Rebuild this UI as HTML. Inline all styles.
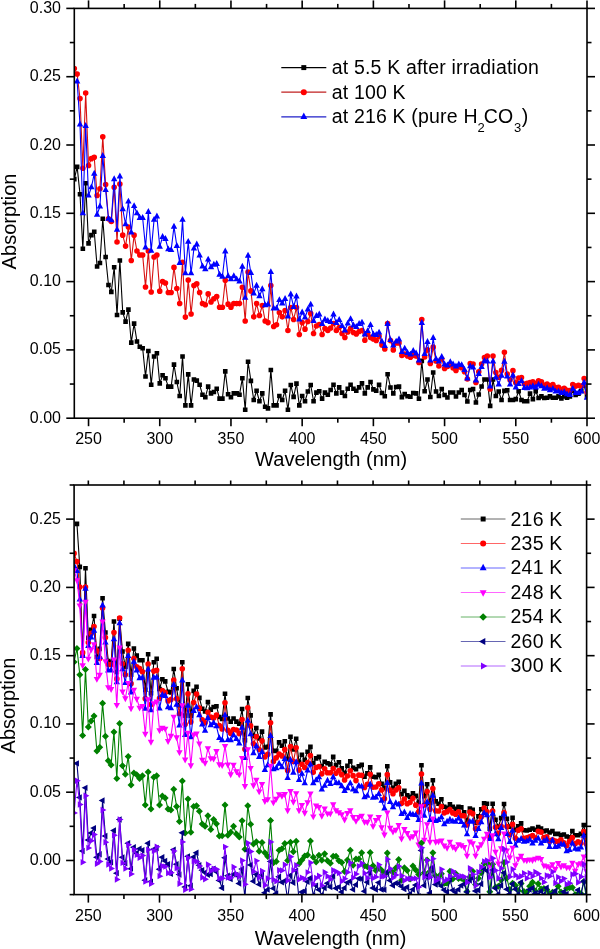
<!DOCTYPE html><html><head><meta charset="utf-8"><style>html,body{margin:0;padding:0;background:#fff;}svg{display:block;will-change:transform;}text{font-family:"Liberation Sans", sans-serif;fill:#000;}</style></head><body><svg width="600" height="949" viewBox="0 0 600 949"><rect width="600" height="949" fill="#fff"/><defs><clipPath id="ct"><rect x="74.3" y="8.4" width="512.7" height="409.8"/></clipPath><clipPath id="cb"><rect x="74.1" y="485" width="512.5" height="409.6"/></clipPath></defs><g clip-path="url(#ct)"><path d="M74.3 179.15 L77.15 166.86 L80 194.18 L82.84 248.82 L85.69 183.25 L88.54 243.35 L91.39 235.16 L94.24 231.74 L97.09 266.57 L99.94 263.02 L102.78 218.76 L105.63 257.01 L108.48 285.01 L111.33 291.84 L114.18 267.26 L117.03 315.07 L119.87 260.56 L122.72 312.33 L125.57 321.62 L128.42 309.6 L131.27 342.66 L134.12 323.67 L136.96 341.43 L139.81 346.76 L142.66 348.26 L145.51 376.54 L148.36 350.99 L151.2 384.73 L154.05 356.46 L156.9 353.31 L159.75 383.37 L162.6 375.31 L165.45 378.31 L168.3 386.65 L171.14 386.65 L173.99 364.65 L176.84 382 L179.69 395.93 L182.54 356.46 L185.39 405.36 L188.23 374.35 L191.08 405.36 L193.93 379.54 L196.78 380.63 L199.63 384.73 L202.48 394.7 L205.32 397.3 L208.17 386.65 L211.02 393.34 L213.87 391.97 L216.72 388.69 L219.56 398.67 L222.41 398.67 L225.26 371.35 L228.11 394.29 L230.96 397.3 L233.81 393.34 L236.66 393.34 L239.5 394.7 L242.35 378.31 L245.2 409.73 L248.05 361.78 L250.9 380.91 L253.75 400.03 L256.59 390.74 L259.44 401.26 L262.29 393.34 L265.14 406.73 L267.99 408.36 L270.84 369.98 L273.68 405.36 L276.53 405.36 L279.38 395.93 L282.23 400.03 L285.08 390.74 L287.93 409.73 L290.77 385.01 L293.62 396.89 L296.47 383.64 L299.32 405.36 L302.17 395.93 L305.02 401.26 L307.86 391.56 L310.71 385.01 L313.56 401.26 L316.41 392.66 L319.26 391.29 L322.11 398.67 L324.95 392.66 L327.8 394.7 L330.65 390.06 L333.5 384.73 L336.35 393.34 L339.2 387.33 L342.04 392.66 L344.89 395.93 L347.74 388.69 L350.59 384.73 L353.44 388.69 L356.29 390.74 L359.13 387.33 L361.98 383.37 L364.83 393.34 L367.68 387.33 L370.53 382 L373.38 389.38 L376.22 390.74 L379.07 384.73 L381.92 392.93 L384.77 396.21 L387.62 374.21 L390.47 387.46 L393.31 393.34 L396.16 387.06 L399.01 386.65 L401.86 397.16 L404.71 394.16 L407.56 396.21 L410.4 396.75 L413.25 392.93 L416.1 393.34 L418.95 398.8 L421.8 360.83 L424.65 391.29 L427.49 379.54 L430.34 397.03 L433.19 372.44 L436.04 391.56 L438.89 395.93 L441.74 388.97 L444.58 394.98 L447.43 397.44 L450.28 392.52 L453.13 392.52 L455.98 396.48 L458.82 392.52 L461.67 390.06 L464.52 394.98 L467.37 401.53 L470.22 390.06 L473.07 388.97 L475.92 402.49 L478.76 394.57 L481.61 386.51 L484.46 379.54 L487.31 379.54 L490.16 405.91 L493.01 379.54 L495.85 395.93 L498.7 391.56 L501.55 400.03 L504.4 390.88 L507.25 390.2 L510.1 400.03 L512.94 400.03 L515.79 399.08 L518.64 391.29 L521.49 400.03 L524.34 401.26 L527.18 401.26 L530.03 393.61 L532.88 399.08 L535.73 391.29 L538.58 397.98 L541.43 396.34 L544.28 397.98 L547.12 397.71 L549.97 396.34 L552.82 397.71 L555.67 397.71 L558.52 396.34 L561.37 398.39 L564.21 396.34 L567.06 397.71 L569.91 396.34 L572.76 390.88 L575.61 394.98 L578.46 393.61 L581.3 390.88 L584.15 385.42 L587 396.34" fill="none" stroke="#000" stroke-width="1.1" stroke-linejoin="round"/><path d="M72 176.85h4.6v4.6h-4.6zM74.85 164.56h4.6v4.6h-4.6zM77.7 191.88h4.6v4.6h-4.6zM80.55 246.52h4.6v4.6h-4.6zM83.39 180.95h4.6v4.6h-4.6zM86.24 241.05h4.6v4.6h-4.6zM89.09 232.86h4.6v4.6h-4.6zM91.94 229.44h4.6v4.6h-4.6zM94.79 264.27h4.6v4.6h-4.6zM97.64 260.72h4.6v4.6h-4.6zM100.48 216.46h4.6v4.6h-4.6zM103.33 254.71h4.6v4.6h-4.6zM106.18 282.71h4.6v4.6h-4.6zM109.03 289.54h4.6v4.6h-4.6zM111.88 264.96h4.6v4.6h-4.6zM114.73 312.77h4.6v4.6h-4.6zM117.57 258.26h4.6v4.6h-4.6zM120.42 310.03h4.6v4.6h-4.6zM123.27 319.32h4.6v4.6h-4.6zM126.12 307.3h4.6v4.6h-4.6zM128.97 340.36h4.6v4.6h-4.6zM131.81 321.37h4.6v4.6h-4.6zM134.66 339.13h4.6v4.6h-4.6zM137.51 344.46h4.6v4.6h-4.6zM140.36 345.96h4.6v4.6h-4.6zM143.21 374.24h4.6v4.6h-4.6zM146.06 348.69h4.6v4.6h-4.6zM148.9 382.43h4.6v4.6h-4.6zM151.75 354.16h4.6v4.6h-4.6zM154.6 351.01h4.6v4.6h-4.6zM157.45 381.07h4.6v4.6h-4.6zM160.3 373.01h4.6v4.6h-4.6zM163.15 376.01h4.6v4.6h-4.6zM166 384.35h4.6v4.6h-4.6zM168.84 384.35h4.6v4.6h-4.6zM171.69 362.35h4.6v4.6h-4.6zM174.54 379.7h4.6v4.6h-4.6zM177.39 393.63h4.6v4.6h-4.6zM180.24 354.16h4.6v4.6h-4.6zM183.09 403.06h4.6v4.6h-4.6zM185.93 372.05h4.6v4.6h-4.6zM188.78 403.06h4.6v4.6h-4.6zM191.63 377.24h4.6v4.6h-4.6zM194.48 378.33h4.6v4.6h-4.6zM197.33 382.43h4.6v4.6h-4.6zM200.18 392.4h4.6v4.6h-4.6zM203.02 395h4.6v4.6h-4.6zM205.87 384.35h4.6v4.6h-4.6zM208.72 391.04h4.6v4.6h-4.6zM211.57 389.67h4.6v4.6h-4.6zM214.42 386.39h4.6v4.6h-4.6zM217.26 396.37h4.6v4.6h-4.6zM220.11 396.37h4.6v4.6h-4.6zM222.96 369.05h4.6v4.6h-4.6zM225.81 391.99h4.6v4.6h-4.6zM228.66 395h4.6v4.6h-4.6zM231.51 391.04h4.6v4.6h-4.6zM234.36 391.04h4.6v4.6h-4.6zM237.2 392.4h4.6v4.6h-4.6zM240.05 376.01h4.6v4.6h-4.6zM242.9 407.43h4.6v4.6h-4.6zM245.75 359.48h4.6v4.6h-4.6zM248.6 378.61h4.6v4.6h-4.6zM251.44 397.73h4.6v4.6h-4.6zM254.29 388.44h4.6v4.6h-4.6zM257.14 398.96h4.6v4.6h-4.6zM259.99 391.04h4.6v4.6h-4.6zM262.84 404.43h4.6v4.6h-4.6zM265.69 406.06h4.6v4.6h-4.6zM268.54 367.68h4.6v4.6h-4.6zM271.38 403.06h4.6v4.6h-4.6zM274.23 403.06h4.6v4.6h-4.6zM277.08 393.63h4.6v4.6h-4.6zM279.93 397.73h4.6v4.6h-4.6zM282.78 388.44h4.6v4.6h-4.6zM285.62 407.43h4.6v4.6h-4.6zM288.47 382.71h4.6v4.6h-4.6zM291.32 394.59h4.6v4.6h-4.6zM294.17 381.34h4.6v4.6h-4.6zM297.02 403.06h4.6v4.6h-4.6zM299.87 393.63h4.6v4.6h-4.6zM302.72 398.96h4.6v4.6h-4.6zM305.56 389.26h4.6v4.6h-4.6zM308.41 382.71h4.6v4.6h-4.6zM311.26 398.96h4.6v4.6h-4.6zM314.11 390.36h4.6v4.6h-4.6zM316.96 388.99h4.6v4.6h-4.6zM319.81 396.37h4.6v4.6h-4.6zM322.65 390.36h4.6v4.6h-4.6zM325.5 392.4h4.6v4.6h-4.6zM328.35 387.76h4.6v4.6h-4.6zM331.2 382.43h4.6v4.6h-4.6zM334.05 391.04h4.6v4.6h-4.6zM336.9 385.03h4.6v4.6h-4.6zM339.74 390.36h4.6v4.6h-4.6zM342.59 393.63h4.6v4.6h-4.6zM345.44 386.39h4.6v4.6h-4.6zM348.29 382.43h4.6v4.6h-4.6zM351.14 386.39h4.6v4.6h-4.6zM353.99 388.44h4.6v4.6h-4.6zM356.83 385.03h4.6v4.6h-4.6zM359.68 381.07h4.6v4.6h-4.6zM362.53 391.04h4.6v4.6h-4.6zM365.38 385.03h4.6v4.6h-4.6zM368.23 379.7h4.6v4.6h-4.6zM371.08 387.08h4.6v4.6h-4.6zM373.92 388.44h4.6v4.6h-4.6zM376.77 382.43h4.6v4.6h-4.6zM379.62 390.63h4.6v4.6h-4.6zM382.47 393.91h4.6v4.6h-4.6zM385.32 371.91h4.6v4.6h-4.6zM388.17 385.16h4.6v4.6h-4.6zM391.01 391.04h4.6v4.6h-4.6zM393.86 384.76h4.6v4.6h-4.6zM396.71 384.35h4.6v4.6h-4.6zM399.56 394.86h4.6v4.6h-4.6zM402.41 391.86h4.6v4.6h-4.6zM405.26 393.91h4.6v4.6h-4.6zM408.1 394.45h4.6v4.6h-4.6zM410.95 390.63h4.6v4.6h-4.6zM413.8 391.04h4.6v4.6h-4.6zM416.65 396.5h4.6v4.6h-4.6zM419.5 358.53h4.6v4.6h-4.6zM422.35 388.99h4.6v4.6h-4.6zM425.19 377.24h4.6v4.6h-4.6zM428.04 394.73h4.6v4.6h-4.6zM430.89 370.14h4.6v4.6h-4.6zM433.74 389.26h4.6v4.6h-4.6zM436.59 393.63h4.6v4.6h-4.6zM439.44 386.67h4.6v4.6h-4.6zM442.28 392.68h4.6v4.6h-4.6zM445.13 395.14h4.6v4.6h-4.6zM447.98 390.22h4.6v4.6h-4.6zM450.83 390.22h4.6v4.6h-4.6zM453.68 394.18h4.6v4.6h-4.6zM456.52 390.22h4.6v4.6h-4.6zM459.37 387.76h4.6v4.6h-4.6zM462.22 392.68h4.6v4.6h-4.6zM465.07 399.23h4.6v4.6h-4.6zM467.92 387.76h4.6v4.6h-4.6zM470.77 386.67h4.6v4.6h-4.6zM473.62 400.19h4.6v4.6h-4.6zM476.46 392.27h4.6v4.6h-4.6zM479.31 384.21h4.6v4.6h-4.6zM482.16 377.24h4.6v4.6h-4.6zM485.01 377.24h4.6v4.6h-4.6zM487.86 403.61h4.6v4.6h-4.6zM490.71 377.24h4.6v4.6h-4.6zM493.55 393.63h4.6v4.6h-4.6zM496.4 389.26h4.6v4.6h-4.6zM499.25 397.73h4.6v4.6h-4.6zM502.1 388.58h4.6v4.6h-4.6zM504.95 387.9h4.6v4.6h-4.6zM507.8 397.73h4.6v4.6h-4.6zM510.64 397.73h4.6v4.6h-4.6zM513.49 396.78h4.6v4.6h-4.6zM516.34 388.99h4.6v4.6h-4.6zM519.19 397.73h4.6v4.6h-4.6zM522.04 398.96h4.6v4.6h-4.6zM524.88 398.96h4.6v4.6h-4.6zM527.73 391.31h4.6v4.6h-4.6zM530.58 396.78h4.6v4.6h-4.6zM533.43 388.99h4.6v4.6h-4.6zM536.28 395.68h4.6v4.6h-4.6zM539.13 394.04h4.6v4.6h-4.6zM541.98 395.68h4.6v4.6h-4.6zM544.82 395.41h4.6v4.6h-4.6zM547.67 394.04h4.6v4.6h-4.6zM550.52 395.41h4.6v4.6h-4.6zM553.37 395.41h4.6v4.6h-4.6zM556.22 394.04h4.6v4.6h-4.6zM559.07 396.09h4.6v4.6h-4.6zM561.91 394.04h4.6v4.6h-4.6zM564.76 395.41h4.6v4.6h-4.6zM567.61 394.04h4.6v4.6h-4.6zM570.46 388.58h4.6v4.6h-4.6zM573.31 392.68h4.6v4.6h-4.6zM576.16 391.31h4.6v4.6h-4.6zM579 388.58h4.6v4.6h-4.6zM581.85 383.12h4.6v4.6h-4.6zM584.7 394.04h4.6v4.6h-4.6z" fill="#000"/><path d="M74.3 68.5 L77.15 73.97 L80 98.56 L82.84 168.22 L85.69 93.09 L88.54 165.49 L91.39 158.66 L94.24 157.29 L97.09 195.54 L99.94 188.71 L102.78 136.8 L105.63 184.61 L108.48 218.76 L111.33 221.5 L114.18 187.35 L117.03 241.99 L119.87 184.07 L122.72 235.16 L125.57 246.08 L128.42 226.96 L131.27 260.56 L134.12 235.16 L136.96 251 L139.81 254.96 L142.66 254.96 L145.51 287.06 L148.36 251 L151.2 291.98 L154.05 257.01 L156.9 254.96 L159.75 291.16 L162.6 281.6 L165.45 282.97 L168.3 292.53 L171.14 292.53 L173.99 267.39 L176.84 288.43 L179.69 303.46 L182.54 262.34 L185.39 317.12 L188.23 280.1 L191.08 313.97 L193.93 285.56 L196.78 283.79 L199.63 292.53 L202.48 303.46 L205.32 304.82 L208.17 293.89 L211.02 301.95 L213.87 298.81 L216.72 296.49 L219.56 307.28 L222.41 307.28 L225.26 280.37 L228.11 304.14 L230.96 307.28 L233.81 303.59 L236.66 303.59 L239.5 303.59 L242.35 287.2 L245.2 320.94 L248.05 272.04 L250.9 290.89 L253.75 316.84 L256.59 303.59 L259.44 315.48 L262.29 305.5 L265.14 320.94 L267.99 322.58 L270.84 285.56 L273.68 326.54 L276.53 324.77 L279.38 312.47 L282.23 316.84 L285.08 310.56 L287.93 330.5 L290.77 307.55 L293.62 319.44 L296.47 307.55 L299.32 334.46 L302.17 322.58 L305.02 329.14 L307.86 321.49 L310.71 313.56 L313.56 333.51 L316.41 326 L319.26 324.49 L322.11 334.46 L324.95 328.45 L327.8 330.5 L330.65 328.04 L333.5 323.54 L336.35 330.5 L339.2 327.5 L342.04 333.51 L344.89 337.47 L347.74 332.01 L350.59 328.45 L353.44 332.55 L356.29 334.05 L359.13 331.46 L361.98 330.5 L364.83 340.2 L367.68 334.05 L370.53 337.61 L373.38 338.97 L376.22 340.47 L379.07 336.24 L381.92 344.98 L384.77 348.94 L387.62 323.54 L390.47 340.47 L393.31 349.9 L396.16 343.07 L399.01 343.07 L401.86 355.5 L404.71 354 L407.56 356.05 L410.4 357.14 L413.25 355.36 L416.1 356.05 L418.95 362.47 L421.8 319.44 L424.65 357 L427.49 349.9 L430.34 363.56 L433.19 347.17 L436.04 360.96 L438.89 366.02 L441.74 359.05 L444.58 368.48 L447.43 366.43 L450.28 364.52 L453.13 367.93 L455.98 370.53 L458.82 366.97 L461.67 367.66 L464.52 371.76 L467.37 379 L470.22 363.56 L473.07 363.97 L475.92 382.41 L478.76 371.76 L481.61 363.97 L484.46 357.55 L487.31 356.05 L490.16 388.97 L493.01 356.05 L495.85 372.44 L498.7 377.22 L501.55 370.39 L504.4 352.36 L507.25 373.94 L510.1 379.95 L512.94 370.66 L515.79 382.68 L518.64 378.04 L521.49 377.49 L524.34 384.05 L527.18 383.37 L530.03 382.68 L532.88 381.73 L535.73 384.05 L538.58 380.77 L541.43 381.86 L544.28 385.42 L547.12 384.05 L549.97 386.1 L552.82 384.6 L555.67 387.46 L558.52 387.33 L561.37 389.51 L564.21 388.42 L567.06 390.2 L569.91 390.47 L572.76 384.46 L575.61 386.1 L578.46 385.42 L581.3 386.1 L584.15 378.59 L587 392.25" fill="none" stroke="#d81010" stroke-width="1.1" stroke-linejoin="round"/><path d="M71.5 68.5a2.8 2.8 0 1 0 5.6 0a2.8 2.8 0 1 0 -5.6 0M74.35 73.97a2.8 2.8 0 1 0 5.6 0a2.8 2.8 0 1 0 -5.6 0M77.2 98.56a2.8 2.8 0 1 0 5.6 0a2.8 2.8 0 1 0 -5.6 0M80.05 168.22a2.8 2.8 0 1 0 5.6 0a2.8 2.8 0 1 0 -5.6 0M82.89 93.09a2.8 2.8 0 1 0 5.6 0a2.8 2.8 0 1 0 -5.6 0M85.74 165.49a2.8 2.8 0 1 0 5.6 0a2.8 2.8 0 1 0 -5.6 0M88.59 158.66a2.8 2.8 0 1 0 5.6 0a2.8 2.8 0 1 0 -5.6 0M91.44 157.29a2.8 2.8 0 1 0 5.6 0a2.8 2.8 0 1 0 -5.6 0M94.29 195.54a2.8 2.8 0 1 0 5.6 0a2.8 2.8 0 1 0 -5.6 0M97.14 188.71a2.8 2.8 0 1 0 5.6 0a2.8 2.8 0 1 0 -5.6 0M99.98 136.8a2.8 2.8 0 1 0 5.6 0a2.8 2.8 0 1 0 -5.6 0M102.83 184.61a2.8 2.8 0 1 0 5.6 0a2.8 2.8 0 1 0 -5.6 0M105.68 218.76a2.8 2.8 0 1 0 5.6 0a2.8 2.8 0 1 0 -5.6 0M108.53 221.5a2.8 2.8 0 1 0 5.6 0a2.8 2.8 0 1 0 -5.6 0M111.38 187.35a2.8 2.8 0 1 0 5.6 0a2.8 2.8 0 1 0 -5.6 0M114.23 241.99a2.8 2.8 0 1 0 5.6 0a2.8 2.8 0 1 0 -5.6 0M117.07 184.07a2.8 2.8 0 1 0 5.6 0a2.8 2.8 0 1 0 -5.6 0M119.92 235.16a2.8 2.8 0 1 0 5.6 0a2.8 2.8 0 1 0 -5.6 0M122.77 246.08a2.8 2.8 0 1 0 5.6 0a2.8 2.8 0 1 0 -5.6 0M125.62 226.96a2.8 2.8 0 1 0 5.6 0a2.8 2.8 0 1 0 -5.6 0M128.47 260.56a2.8 2.8 0 1 0 5.6 0a2.8 2.8 0 1 0 -5.6 0M131.31 235.16a2.8 2.8 0 1 0 5.6 0a2.8 2.8 0 1 0 -5.6 0M134.16 251a2.8 2.8 0 1 0 5.6 0a2.8 2.8 0 1 0 -5.6 0M137.01 254.96a2.8 2.8 0 1 0 5.6 0a2.8 2.8 0 1 0 -5.6 0M139.86 254.96a2.8 2.8 0 1 0 5.6 0a2.8 2.8 0 1 0 -5.6 0M142.71 287.06a2.8 2.8 0 1 0 5.6 0a2.8 2.8 0 1 0 -5.6 0M145.56 251a2.8 2.8 0 1 0 5.6 0a2.8 2.8 0 1 0 -5.6 0M148.4 291.98a2.8 2.8 0 1 0 5.6 0a2.8 2.8 0 1 0 -5.6 0M151.25 257.01a2.8 2.8 0 1 0 5.6 0a2.8 2.8 0 1 0 -5.6 0M154.1 254.96a2.8 2.8 0 1 0 5.6 0a2.8 2.8 0 1 0 -5.6 0M156.95 291.16a2.8 2.8 0 1 0 5.6 0a2.8 2.8 0 1 0 -5.6 0M159.8 281.6a2.8 2.8 0 1 0 5.6 0a2.8 2.8 0 1 0 -5.6 0M162.65 282.97a2.8 2.8 0 1 0 5.6 0a2.8 2.8 0 1 0 -5.6 0M165.5 292.53a2.8 2.8 0 1 0 5.6 0a2.8 2.8 0 1 0 -5.6 0M168.34 292.53a2.8 2.8 0 1 0 5.6 0a2.8 2.8 0 1 0 -5.6 0M171.19 267.39a2.8 2.8 0 1 0 5.6 0a2.8 2.8 0 1 0 -5.6 0M174.04 288.43a2.8 2.8 0 1 0 5.6 0a2.8 2.8 0 1 0 -5.6 0M176.89 303.46a2.8 2.8 0 1 0 5.6 0a2.8 2.8 0 1 0 -5.6 0M179.74 262.34a2.8 2.8 0 1 0 5.6 0a2.8 2.8 0 1 0 -5.6 0M182.59 317.12a2.8 2.8 0 1 0 5.6 0a2.8 2.8 0 1 0 -5.6 0M185.43 280.1a2.8 2.8 0 1 0 5.6 0a2.8 2.8 0 1 0 -5.6 0M188.28 313.97a2.8 2.8 0 1 0 5.6 0a2.8 2.8 0 1 0 -5.6 0M191.13 285.56a2.8 2.8 0 1 0 5.6 0a2.8 2.8 0 1 0 -5.6 0M193.98 283.79a2.8 2.8 0 1 0 5.6 0a2.8 2.8 0 1 0 -5.6 0M196.83 292.53a2.8 2.8 0 1 0 5.6 0a2.8 2.8 0 1 0 -5.6 0M199.68 303.46a2.8 2.8 0 1 0 5.6 0a2.8 2.8 0 1 0 -5.6 0M202.52 304.82a2.8 2.8 0 1 0 5.6 0a2.8 2.8 0 1 0 -5.6 0M205.37 293.89a2.8 2.8 0 1 0 5.6 0a2.8 2.8 0 1 0 -5.6 0M208.22 301.95a2.8 2.8 0 1 0 5.6 0a2.8 2.8 0 1 0 -5.6 0M211.07 298.81a2.8 2.8 0 1 0 5.6 0a2.8 2.8 0 1 0 -5.6 0M213.92 296.49a2.8 2.8 0 1 0 5.6 0a2.8 2.8 0 1 0 -5.6 0M216.76 307.28a2.8 2.8 0 1 0 5.6 0a2.8 2.8 0 1 0 -5.6 0M219.61 307.28a2.8 2.8 0 1 0 5.6 0a2.8 2.8 0 1 0 -5.6 0M222.46 280.37a2.8 2.8 0 1 0 5.6 0a2.8 2.8 0 1 0 -5.6 0M225.31 304.14a2.8 2.8 0 1 0 5.6 0a2.8 2.8 0 1 0 -5.6 0M228.16 307.28a2.8 2.8 0 1 0 5.6 0a2.8 2.8 0 1 0 -5.6 0M231.01 303.59a2.8 2.8 0 1 0 5.6 0a2.8 2.8 0 1 0 -5.6 0M233.86 303.59a2.8 2.8 0 1 0 5.6 0a2.8 2.8 0 1 0 -5.6 0M236.7 303.59a2.8 2.8 0 1 0 5.6 0a2.8 2.8 0 1 0 -5.6 0M239.55 287.2a2.8 2.8 0 1 0 5.6 0a2.8 2.8 0 1 0 -5.6 0M242.4 320.94a2.8 2.8 0 1 0 5.6 0a2.8 2.8 0 1 0 -5.6 0M245.25 272.04a2.8 2.8 0 1 0 5.6 0a2.8 2.8 0 1 0 -5.6 0M248.1 290.89a2.8 2.8 0 1 0 5.6 0a2.8 2.8 0 1 0 -5.6 0M250.94 316.84a2.8 2.8 0 1 0 5.6 0a2.8 2.8 0 1 0 -5.6 0M253.79 303.59a2.8 2.8 0 1 0 5.6 0a2.8 2.8 0 1 0 -5.6 0M256.64 315.48a2.8 2.8 0 1 0 5.6 0a2.8 2.8 0 1 0 -5.6 0M259.49 305.5a2.8 2.8 0 1 0 5.6 0a2.8 2.8 0 1 0 -5.6 0M262.34 320.94a2.8 2.8 0 1 0 5.6 0a2.8 2.8 0 1 0 -5.6 0M265.19 322.58a2.8 2.8 0 1 0 5.6 0a2.8 2.8 0 1 0 -5.6 0M268.04 285.56a2.8 2.8 0 1 0 5.6 0a2.8 2.8 0 1 0 -5.6 0M270.88 326.54a2.8 2.8 0 1 0 5.6 0a2.8 2.8 0 1 0 -5.6 0M273.73 324.77a2.8 2.8 0 1 0 5.6 0a2.8 2.8 0 1 0 -5.6 0M276.58 312.47a2.8 2.8 0 1 0 5.6 0a2.8 2.8 0 1 0 -5.6 0M279.43 316.84a2.8 2.8 0 1 0 5.6 0a2.8 2.8 0 1 0 -5.6 0M282.28 310.56a2.8 2.8 0 1 0 5.6 0a2.8 2.8 0 1 0 -5.6 0M285.12 330.5a2.8 2.8 0 1 0 5.6 0a2.8 2.8 0 1 0 -5.6 0M287.97 307.55a2.8 2.8 0 1 0 5.6 0a2.8 2.8 0 1 0 -5.6 0M290.82 319.44a2.8 2.8 0 1 0 5.6 0a2.8 2.8 0 1 0 -5.6 0M293.67 307.55a2.8 2.8 0 1 0 5.6 0a2.8 2.8 0 1 0 -5.6 0M296.52 334.46a2.8 2.8 0 1 0 5.6 0a2.8 2.8 0 1 0 -5.6 0M299.37 322.58a2.8 2.8 0 1 0 5.6 0a2.8 2.8 0 1 0 -5.6 0M302.22 329.14a2.8 2.8 0 1 0 5.6 0a2.8 2.8 0 1 0 -5.6 0M305.06 321.49a2.8 2.8 0 1 0 5.6 0a2.8 2.8 0 1 0 -5.6 0M307.91 313.56a2.8 2.8 0 1 0 5.6 0a2.8 2.8 0 1 0 -5.6 0M310.76 333.51a2.8 2.8 0 1 0 5.6 0a2.8 2.8 0 1 0 -5.6 0M313.61 326a2.8 2.8 0 1 0 5.6 0a2.8 2.8 0 1 0 -5.6 0M316.46 324.49a2.8 2.8 0 1 0 5.6 0a2.8 2.8 0 1 0 -5.6 0M319.31 334.46a2.8 2.8 0 1 0 5.6 0a2.8 2.8 0 1 0 -5.6 0M322.15 328.45a2.8 2.8 0 1 0 5.6 0a2.8 2.8 0 1 0 -5.6 0M325 330.5a2.8 2.8 0 1 0 5.6 0a2.8 2.8 0 1 0 -5.6 0M327.85 328.04a2.8 2.8 0 1 0 5.6 0a2.8 2.8 0 1 0 -5.6 0M330.7 323.54a2.8 2.8 0 1 0 5.6 0a2.8 2.8 0 1 0 -5.6 0M333.55 330.5a2.8 2.8 0 1 0 5.6 0a2.8 2.8 0 1 0 -5.6 0M336.4 327.5a2.8 2.8 0 1 0 5.6 0a2.8 2.8 0 1 0 -5.6 0M339.24 333.51a2.8 2.8 0 1 0 5.6 0a2.8 2.8 0 1 0 -5.6 0M342.09 337.47a2.8 2.8 0 1 0 5.6 0a2.8 2.8 0 1 0 -5.6 0M344.94 332.01a2.8 2.8 0 1 0 5.6 0a2.8 2.8 0 1 0 -5.6 0M347.79 328.45a2.8 2.8 0 1 0 5.6 0a2.8 2.8 0 1 0 -5.6 0M350.64 332.55a2.8 2.8 0 1 0 5.6 0a2.8 2.8 0 1 0 -5.6 0M353.49 334.05a2.8 2.8 0 1 0 5.6 0a2.8 2.8 0 1 0 -5.6 0M356.33 331.46a2.8 2.8 0 1 0 5.6 0a2.8 2.8 0 1 0 -5.6 0M359.18 330.5a2.8 2.8 0 1 0 5.6 0a2.8 2.8 0 1 0 -5.6 0M362.03 340.2a2.8 2.8 0 1 0 5.6 0a2.8 2.8 0 1 0 -5.6 0M364.88 334.05a2.8 2.8 0 1 0 5.6 0a2.8 2.8 0 1 0 -5.6 0M367.73 337.61a2.8 2.8 0 1 0 5.6 0a2.8 2.8 0 1 0 -5.6 0M370.58 338.97a2.8 2.8 0 1 0 5.6 0a2.8 2.8 0 1 0 -5.6 0M373.42 340.47a2.8 2.8 0 1 0 5.6 0a2.8 2.8 0 1 0 -5.6 0M376.27 336.24a2.8 2.8 0 1 0 5.6 0a2.8 2.8 0 1 0 -5.6 0M379.12 344.98a2.8 2.8 0 1 0 5.6 0a2.8 2.8 0 1 0 -5.6 0M381.97 348.94a2.8 2.8 0 1 0 5.6 0a2.8 2.8 0 1 0 -5.6 0M384.82 323.54a2.8 2.8 0 1 0 5.6 0a2.8 2.8 0 1 0 -5.6 0M387.67 340.47a2.8 2.8 0 1 0 5.6 0a2.8 2.8 0 1 0 -5.6 0M390.51 349.9a2.8 2.8 0 1 0 5.6 0a2.8 2.8 0 1 0 -5.6 0M393.36 343.07a2.8 2.8 0 1 0 5.6 0a2.8 2.8 0 1 0 -5.6 0M396.21 343.07a2.8 2.8 0 1 0 5.6 0a2.8 2.8 0 1 0 -5.6 0M399.06 355.5a2.8 2.8 0 1 0 5.6 0a2.8 2.8 0 1 0 -5.6 0M401.91 354a2.8 2.8 0 1 0 5.6 0a2.8 2.8 0 1 0 -5.6 0M404.76 356.05a2.8 2.8 0 1 0 5.6 0a2.8 2.8 0 1 0 -5.6 0M407.6 357.14a2.8 2.8 0 1 0 5.6 0a2.8 2.8 0 1 0 -5.6 0M410.45 355.36a2.8 2.8 0 1 0 5.6 0a2.8 2.8 0 1 0 -5.6 0M413.3 356.05a2.8 2.8 0 1 0 5.6 0a2.8 2.8 0 1 0 -5.6 0M416.15 362.47a2.8 2.8 0 1 0 5.6 0a2.8 2.8 0 1 0 -5.6 0M419 319.44a2.8 2.8 0 1 0 5.6 0a2.8 2.8 0 1 0 -5.6 0M421.85 357a2.8 2.8 0 1 0 5.6 0a2.8 2.8 0 1 0 -5.6 0M424.69 349.9a2.8 2.8 0 1 0 5.6 0a2.8 2.8 0 1 0 -5.6 0M427.54 363.56a2.8 2.8 0 1 0 5.6 0a2.8 2.8 0 1 0 -5.6 0M430.39 347.17a2.8 2.8 0 1 0 5.6 0a2.8 2.8 0 1 0 -5.6 0M433.24 360.96a2.8 2.8 0 1 0 5.6 0a2.8 2.8 0 1 0 -5.6 0M436.09 366.02a2.8 2.8 0 1 0 5.6 0a2.8 2.8 0 1 0 -5.6 0M438.94 359.05a2.8 2.8 0 1 0 5.6 0a2.8 2.8 0 1 0 -5.6 0M441.78 368.48a2.8 2.8 0 1 0 5.6 0a2.8 2.8 0 1 0 -5.6 0M444.63 366.43a2.8 2.8 0 1 0 5.6 0a2.8 2.8 0 1 0 -5.6 0M447.48 364.52a2.8 2.8 0 1 0 5.6 0a2.8 2.8 0 1 0 -5.6 0M450.33 367.93a2.8 2.8 0 1 0 5.6 0a2.8 2.8 0 1 0 -5.6 0M453.18 370.53a2.8 2.8 0 1 0 5.6 0a2.8 2.8 0 1 0 -5.6 0M456.02 366.97a2.8 2.8 0 1 0 5.6 0a2.8 2.8 0 1 0 -5.6 0M458.87 367.66a2.8 2.8 0 1 0 5.6 0a2.8 2.8 0 1 0 -5.6 0M461.72 371.76a2.8 2.8 0 1 0 5.6 0a2.8 2.8 0 1 0 -5.6 0M464.57 379a2.8 2.8 0 1 0 5.6 0a2.8 2.8 0 1 0 -5.6 0M467.42 363.56a2.8 2.8 0 1 0 5.6 0a2.8 2.8 0 1 0 -5.6 0M470.27 363.97a2.8 2.8 0 1 0 5.6 0a2.8 2.8 0 1 0 -5.6 0M473.12 382.41a2.8 2.8 0 1 0 5.6 0a2.8 2.8 0 1 0 -5.6 0M475.96 371.76a2.8 2.8 0 1 0 5.6 0a2.8 2.8 0 1 0 -5.6 0M478.81 363.97a2.8 2.8 0 1 0 5.6 0a2.8 2.8 0 1 0 -5.6 0M481.66 357.55a2.8 2.8 0 1 0 5.6 0a2.8 2.8 0 1 0 -5.6 0M484.51 356.05a2.8 2.8 0 1 0 5.6 0a2.8 2.8 0 1 0 -5.6 0M487.36 388.97a2.8 2.8 0 1 0 5.6 0a2.8 2.8 0 1 0 -5.6 0M490.21 356.05a2.8 2.8 0 1 0 5.6 0a2.8 2.8 0 1 0 -5.6 0M493.05 372.44a2.8 2.8 0 1 0 5.6 0a2.8 2.8 0 1 0 -5.6 0M495.9 377.22a2.8 2.8 0 1 0 5.6 0a2.8 2.8 0 1 0 -5.6 0M498.75 370.39a2.8 2.8 0 1 0 5.6 0a2.8 2.8 0 1 0 -5.6 0M501.6 352.36a2.8 2.8 0 1 0 5.6 0a2.8 2.8 0 1 0 -5.6 0M504.45 373.94a2.8 2.8 0 1 0 5.6 0a2.8 2.8 0 1 0 -5.6 0M507.3 379.95a2.8 2.8 0 1 0 5.6 0a2.8 2.8 0 1 0 -5.6 0M510.14 370.66a2.8 2.8 0 1 0 5.6 0a2.8 2.8 0 1 0 -5.6 0M512.99 382.68a2.8 2.8 0 1 0 5.6 0a2.8 2.8 0 1 0 -5.6 0M515.84 378.04a2.8 2.8 0 1 0 5.6 0a2.8 2.8 0 1 0 -5.6 0M518.69 377.49a2.8 2.8 0 1 0 5.6 0a2.8 2.8 0 1 0 -5.6 0M521.54 384.05a2.8 2.8 0 1 0 5.6 0a2.8 2.8 0 1 0 -5.6 0M524.38 383.37a2.8 2.8 0 1 0 5.6 0a2.8 2.8 0 1 0 -5.6 0M527.23 382.68a2.8 2.8 0 1 0 5.6 0a2.8 2.8 0 1 0 -5.6 0M530.08 381.73a2.8 2.8 0 1 0 5.6 0a2.8 2.8 0 1 0 -5.6 0M532.93 384.05a2.8 2.8 0 1 0 5.6 0a2.8 2.8 0 1 0 -5.6 0M535.78 380.77a2.8 2.8 0 1 0 5.6 0a2.8 2.8 0 1 0 -5.6 0M538.63 381.86a2.8 2.8 0 1 0 5.6 0a2.8 2.8 0 1 0 -5.6 0M541.48 385.42a2.8 2.8 0 1 0 5.6 0a2.8 2.8 0 1 0 -5.6 0M544.32 384.05a2.8 2.8 0 1 0 5.6 0a2.8 2.8 0 1 0 -5.6 0M547.17 386.1a2.8 2.8 0 1 0 5.6 0a2.8 2.8 0 1 0 -5.6 0M550.02 384.6a2.8 2.8 0 1 0 5.6 0a2.8 2.8 0 1 0 -5.6 0M552.87 387.46a2.8 2.8 0 1 0 5.6 0a2.8 2.8 0 1 0 -5.6 0M555.72 387.33a2.8 2.8 0 1 0 5.6 0a2.8 2.8 0 1 0 -5.6 0M558.57 389.51a2.8 2.8 0 1 0 5.6 0a2.8 2.8 0 1 0 -5.6 0M561.41 388.42a2.8 2.8 0 1 0 5.6 0a2.8 2.8 0 1 0 -5.6 0M564.26 390.2a2.8 2.8 0 1 0 5.6 0a2.8 2.8 0 1 0 -5.6 0M567.11 390.47a2.8 2.8 0 1 0 5.6 0a2.8 2.8 0 1 0 -5.6 0M569.96 384.46a2.8 2.8 0 1 0 5.6 0a2.8 2.8 0 1 0 -5.6 0M572.81 386.1a2.8 2.8 0 1 0 5.6 0a2.8 2.8 0 1 0 -5.6 0M575.66 385.42a2.8 2.8 0 1 0 5.6 0a2.8 2.8 0 1 0 -5.6 0M578.5 386.1a2.8 2.8 0 1 0 5.6 0a2.8 2.8 0 1 0 -5.6 0M581.35 378.59a2.8 2.8 0 1 0 5.6 0a2.8 2.8 0 1 0 -5.6 0M584.2 392.25a2.8 2.8 0 1 0 5.6 0a2.8 2.8 0 1 0 -5.6 0" fill="#f00"/><path d="M77.15 81.48 L80 124.51 L82.84 213.3 L85.69 125.88 L88.54 195.54 L91.39 187.35 L94.24 173.69 L97.09 214.67 L99.94 206.47 L102.78 155.93 L105.63 190.08 L108.48 218.76 L111.33 220.13 L114.18 179.15 L117.03 229.69 L119.87 176.42 L122.72 209.2 L125.57 224.23 L128.42 201.55 L131.27 232.42 L134.12 206.06 L136.96 213.3 L139.81 217.94 L142.66 217.94 L145.51 247.45 L148.36 211.93 L151.2 250.86 L154.05 219.86 L156.9 216.44 L159.75 246.63 L162.6 236.93 L165.45 238.98 L168.3 249.36 L171.14 250.05 L173.99 226.69 L176.84 245.95 L179.69 263.02 L182.54 219.86 L185.39 273.27 L188.23 241.85 L191.08 273.27 L193.93 248.54 L196.78 244.44 L199.63 255.51 L202.48 266.44 L205.32 269.17 L208.17 259.61 L211.02 267.26 L213.87 264.66 L216.72 263.98 L219.56 274.63 L222.41 276.68 L225.26 251.41 L228.11 276.14 L230.96 279.28 L233.81 276.14 L236.66 279.28 L239.5 281.46 L242.35 266.71 L245.2 297.86 L248.05 255.65 L250.9 272.99 L253.75 293.62 L256.59 285.7 L259.44 296.22 L262.29 289.25 L265.14 305.23 L267.99 304.55 L270.84 272.04 L273.68 308.51 L276.53 308.51 L279.38 300.04 L282.23 303.46 L285.08 298.95 L287.93 316.43 L290.77 294.44 L293.62 307.01 L296.47 296.49 L299.32 319.44 L302.17 312.47 L305.02 317.53 L307.86 309.47 L310.71 304.55 L313.56 320.94 L316.41 316.02 L319.26 314.52 L322.11 323.95 L324.95 319.44 L327.8 320.94 L330.65 322.03 L333.5 314.52 L336.35 322.99 L339.2 319.98 L342.04 326 L344.89 330.5 L347.74 323.54 L350.59 319.03 L353.44 325.45 L356.29 326.95 L359.13 323.95 L361.98 322.58 L364.83 334.46 L367.68 331.05 L370.53 325.04 L373.38 334.46 L376.22 335.01 L379.07 332.55 L381.92 341.57 L384.77 345.94 L387.62 323.95 L390.47 340.06 L393.31 345.53 L396.16 341.57 L399.01 339.52 L401.86 351.95 L404.71 348.53 L407.56 353.04 L410.4 354.54 L413.25 350.99 L416.1 353.45 L418.95 360.55 L421.8 322.99 L424.65 354 L427.49 341.98 L430.34 360.55 L433.19 338.02 L436.04 359.05 L438.89 361.51 L441.74 357 L444.58 364.52 L447.43 365.47 L450.28 362.06 L453.13 364.52 L455.98 366.43 L458.82 364.52 L461.67 365.06 L464.52 369.98 L467.37 378.45 L470.22 366.29 L473.07 367.52 L475.92 380.5 L478.76 373.94 L481.61 366.97 L484.46 360.96 L487.31 361.51 L490.16 386.51 L493.01 361.51 L495.85 377.49 L498.7 384.46 L501.55 375.85 L504.4 361.65 L507.25 376.54 L510.1 384.46 L512.94 375.44 L515.79 387.46 L518.64 384.05 L521.49 381.04 L524.34 388.01 L527.18 388.15 L530.03 387.46 L532.88 386.24 L535.73 387.46 L538.58 384.73 L541.43 386.24 L544.28 388.83 L547.12 388.15 L549.97 390.2 L552.82 388.83 L555.67 391.56 L558.52 391.56 L561.37 392.93 L564.21 392.25 L567.06 394.29 L569.91 394.98 L572.76 388.83 L575.61 392.93 L578.46 392.93 L581.3 391.56 L584.15 382.68 L587 397.71" fill="none" stroke="#00f" stroke-width="1.1" stroke-linejoin="round"/><path d="M77.15 77.58l3.2 5.9h-6.4zM80 120.61l3.2 5.9h-6.4zM82.84 209.4l3.2 5.9h-6.4zM85.69 121.98l3.2 5.9h-6.4zM88.54 191.64l3.2 5.9h-6.4zM91.39 183.45l3.2 5.9h-6.4zM94.24 169.79l3.2 5.9h-6.4zM97.09 210.77l3.2 5.9h-6.4zM99.94 202.57l3.2 5.9h-6.4zM102.78 152.03l3.2 5.9h-6.4zM105.63 186.18l3.2 5.9h-6.4zM108.48 214.86l3.2 5.9h-6.4zM111.33 216.23l3.2 5.9h-6.4zM114.18 175.25l3.2 5.9h-6.4zM117.03 225.79l3.2 5.9h-6.4zM119.87 172.52l3.2 5.9h-6.4zM122.72 205.3l3.2 5.9h-6.4zM125.57 220.33l3.2 5.9h-6.4zM128.42 197.65l3.2 5.9h-6.4zM131.27 228.52l3.2 5.9h-6.4zM134.12 202.16l3.2 5.9h-6.4zM136.96 209.4l3.2 5.9h-6.4zM139.81 214.04l3.2 5.9h-6.4zM142.66 214.04l3.2 5.9h-6.4zM145.51 243.55l3.2 5.9h-6.4zM148.36 208.03l3.2 5.9h-6.4zM151.2 246.96l3.2 5.9h-6.4zM154.05 215.96l3.2 5.9h-6.4zM156.9 212.54l3.2 5.9h-6.4zM159.75 242.73l3.2 5.9h-6.4zM162.6 233.03l3.2 5.9h-6.4zM165.45 235.08l3.2 5.9h-6.4zM168.3 245.46l3.2 5.9h-6.4zM171.14 246.15l3.2 5.9h-6.4zM173.99 222.79l3.2 5.9h-6.4zM176.84 242.05l3.2 5.9h-6.4zM179.69 259.12l3.2 5.9h-6.4zM182.54 215.96l3.2 5.9h-6.4zM185.39 269.37l3.2 5.9h-6.4zM188.23 237.95l3.2 5.9h-6.4zM191.08 269.37l3.2 5.9h-6.4zM193.93 244.64l3.2 5.9h-6.4zM196.78 240.54l3.2 5.9h-6.4zM199.63 251.61l3.2 5.9h-6.4zM202.48 262.54l3.2 5.9h-6.4zM205.32 265.27l3.2 5.9h-6.4zM208.17 255.71l3.2 5.9h-6.4zM211.02 263.36l3.2 5.9h-6.4zM213.87 260.76l3.2 5.9h-6.4zM216.72 260.08l3.2 5.9h-6.4zM219.56 270.73l3.2 5.9h-6.4zM222.41 272.78l3.2 5.9h-6.4zM225.26 247.51l3.2 5.9h-6.4zM228.11 272.24l3.2 5.9h-6.4zM230.96 275.38l3.2 5.9h-6.4zM233.81 272.24l3.2 5.9h-6.4zM236.66 275.38l3.2 5.9h-6.4zM239.5 277.56l3.2 5.9h-6.4zM242.35 262.81l3.2 5.9h-6.4zM245.2 293.96l3.2 5.9h-6.4zM248.05 251.75l3.2 5.9h-6.4zM250.9 269.09l3.2 5.9h-6.4zM253.75 289.72l3.2 5.9h-6.4zM256.59 281.8l3.2 5.9h-6.4zM259.44 292.32l3.2 5.9h-6.4zM262.29 285.35l3.2 5.9h-6.4zM265.14 301.33l3.2 5.9h-6.4zM267.99 300.65l3.2 5.9h-6.4zM270.84 268.14l3.2 5.9h-6.4zM273.68 304.61l3.2 5.9h-6.4zM276.53 304.61l3.2 5.9h-6.4zM279.38 296.14l3.2 5.9h-6.4zM282.23 299.56l3.2 5.9h-6.4zM285.08 295.05l3.2 5.9h-6.4zM287.93 312.53l3.2 5.9h-6.4zM290.77 290.54l3.2 5.9h-6.4zM293.62 303.11l3.2 5.9h-6.4zM296.47 292.59l3.2 5.9h-6.4zM299.32 315.54l3.2 5.9h-6.4zM302.17 308.57l3.2 5.9h-6.4zM305.02 313.63l3.2 5.9h-6.4zM307.86 305.57l3.2 5.9h-6.4zM310.71 300.65l3.2 5.9h-6.4zM313.56 317.04l3.2 5.9h-6.4zM316.41 312.12l3.2 5.9h-6.4zM319.26 310.62l3.2 5.9h-6.4zM322.11 320.05l3.2 5.9h-6.4zM324.95 315.54l3.2 5.9h-6.4zM327.8 317.04l3.2 5.9h-6.4zM330.65 318.13l3.2 5.9h-6.4zM333.5 310.62l3.2 5.9h-6.4zM336.35 319.09l3.2 5.9h-6.4zM339.2 316.08l3.2 5.9h-6.4zM342.04 322.1l3.2 5.9h-6.4zM344.89 326.6l3.2 5.9h-6.4zM347.74 319.64l3.2 5.9h-6.4zM350.59 315.13l3.2 5.9h-6.4zM353.44 321.55l3.2 5.9h-6.4zM356.29 323.05l3.2 5.9h-6.4zM359.13 320.05l3.2 5.9h-6.4zM361.98 318.68l3.2 5.9h-6.4zM364.83 330.56l3.2 5.9h-6.4zM367.68 327.15l3.2 5.9h-6.4zM370.53 321.14l3.2 5.9h-6.4zM373.38 330.56l3.2 5.9h-6.4zM376.22 331.11l3.2 5.9h-6.4zM379.07 328.65l3.2 5.9h-6.4zM381.92 337.67l3.2 5.9h-6.4zM384.77 342.04l3.2 5.9h-6.4zM387.62 320.05l3.2 5.9h-6.4zM390.47 336.16l3.2 5.9h-6.4zM393.31 341.63l3.2 5.9h-6.4zM396.16 337.67l3.2 5.9h-6.4zM399.01 335.62l3.2 5.9h-6.4zM401.86 348.05l3.2 5.9h-6.4zM404.71 344.63l3.2 5.9h-6.4zM407.56 349.14l3.2 5.9h-6.4zM410.4 350.64l3.2 5.9h-6.4zM413.25 347.09l3.2 5.9h-6.4zM416.1 349.55l3.2 5.9h-6.4zM418.95 356.65l3.2 5.9h-6.4zM421.8 319.09l3.2 5.9h-6.4zM424.65 350.1l3.2 5.9h-6.4zM427.49 338.08l3.2 5.9h-6.4zM430.34 356.65l3.2 5.9h-6.4zM433.19 334.12l3.2 5.9h-6.4zM436.04 355.15l3.2 5.9h-6.4zM438.89 357.61l3.2 5.9h-6.4zM441.74 353.1l3.2 5.9h-6.4zM444.58 360.62l3.2 5.9h-6.4zM447.43 361.57l3.2 5.9h-6.4zM450.28 358.16l3.2 5.9h-6.4zM453.13 360.62l3.2 5.9h-6.4zM455.98 362.53l3.2 5.9h-6.4zM458.82 360.62l3.2 5.9h-6.4zM461.67 361.16l3.2 5.9h-6.4zM464.52 366.08l3.2 5.9h-6.4zM467.37 374.55l3.2 5.9h-6.4zM470.22 362.39l3.2 5.9h-6.4zM473.07 363.62l3.2 5.9h-6.4zM475.92 376.6l3.2 5.9h-6.4zM478.76 370.04l3.2 5.9h-6.4zM481.61 363.07l3.2 5.9h-6.4zM484.46 357.06l3.2 5.9h-6.4zM487.31 357.61l3.2 5.9h-6.4zM490.16 382.61l3.2 5.9h-6.4zM493.01 357.61l3.2 5.9h-6.4zM495.85 373.59l3.2 5.9h-6.4zM498.7 380.56l3.2 5.9h-6.4zM501.55 371.95l3.2 5.9h-6.4zM504.4 357.75l3.2 5.9h-6.4zM507.25 372.64l3.2 5.9h-6.4zM510.1 380.56l3.2 5.9h-6.4zM512.94 371.54l3.2 5.9h-6.4zM515.79 383.56l3.2 5.9h-6.4zM518.64 380.15l3.2 5.9h-6.4zM521.49 377.14l3.2 5.9h-6.4zM524.34 384.11l3.2 5.9h-6.4zM527.18 384.25l3.2 5.9h-6.4zM530.03 383.56l3.2 5.9h-6.4zM532.88 382.34l3.2 5.9h-6.4zM535.73 383.56l3.2 5.9h-6.4zM538.58 380.83l3.2 5.9h-6.4zM541.43 382.34l3.2 5.9h-6.4zM544.28 384.93l3.2 5.9h-6.4zM547.12 384.25l3.2 5.9h-6.4zM549.97 386.3l3.2 5.9h-6.4zM552.82 384.93l3.2 5.9h-6.4zM555.67 387.66l3.2 5.9h-6.4zM558.52 387.66l3.2 5.9h-6.4zM561.37 389.03l3.2 5.9h-6.4zM564.21 388.35l3.2 5.9h-6.4zM567.06 390.39l3.2 5.9h-6.4zM569.91 391.08l3.2 5.9h-6.4zM572.76 384.93l3.2 5.9h-6.4zM575.61 389.03l3.2 5.9h-6.4zM578.46 389.03l3.2 5.9h-6.4zM581.3 387.66l3.2 5.9h-6.4zM584.15 378.78l3.2 5.9h-6.4zM587 393.81l3.2 5.9h-6.4z" fill="#00f"/></g><g clip-path="url(#cb)"><path d="M76.95 523.91 L79.79 566.92 L82.64 655.67 L85.49 568.29 L88.34 637.92 L91.18 629.73 L94.03 616.07 L96.88 657.03 L99.72 648.84 L102.57 598.32 L105.42 632.46 L108.27 661.13 L111.11 662.49 L113.96 621.53 L116.81 672.05 L119.66 618.8 L122.5 651.57 L125.35 666.59 L128.2 643.92 L131.04 674.78 L133.89 648.43 L136.74 655.67 L139.59 660.31 L142.43 660.31 L145.28 689.8 L148.13 654.3 L150.97 693.21 L153.82 662.22 L156.67 658.81 L159.52 688.98 L162.36 679.29 L165.21 681.33 L168.06 691.71 L170.91 692.39 L173.75 669.05 L176.6 688.3 L179.45 705.36 L182.29 662.22 L185.14 715.6 L187.99 684.2 L190.84 715.6 L193.68 690.89 L196.53 686.8 L199.38 697.86 L202.22 708.78 L205.07 711.51 L207.92 701.95 L210.77 709.6 L213.61 707 L216.46 706.32 L219.31 716.97 L222.16 719.02 L225 693.76 L227.85 718.47 L230.7 721.61 L233.54 718.47 L236.39 721.61 L239.24 723.8 L242.09 709.05 L244.93 740.18 L247.78 697.99 L250.63 715.33 L253.47 735.95 L256.32 728.03 L259.17 738.54 L262.02 731.58 L264.86 747.55 L267.71 746.87 L270.56 714.38 L273.41 750.83 L276.25 750.83 L279.1 742.37 L281.95 745.78 L284.79 741.27 L287.64 758.75 L290.49 736.77 L293.34 749.33 L296.18 738.82 L299.03 761.75 L301.88 754.79 L304.73 759.84 L307.57 751.79 L310.42 746.87 L313.27 763.25 L316.11 758.34 L318.96 756.84 L321.81 766.26 L324.66 761.75 L327.5 763.25 L330.35 764.35 L333.2 756.84 L336.04 765.3 L338.89 762.3 L341.74 768.31 L344.59 772.81 L347.43 765.85 L350.28 761.34 L353.13 767.76 L355.98 769.26 L358.82 766.26 L361.67 764.89 L364.52 776.77 L367.36 773.36 L370.21 767.35 L373.06 776.77 L375.91 777.32 L378.75 774.86 L381.6 783.87 L384.45 788.24 L387.29 766.26 L390.14 782.37 L392.99 787.83 L395.84 783.87 L398.68 781.82 L401.53 794.25 L404.38 790.83 L407.23 795.34 L410.07 796.84 L412.92 793.29 L415.77 795.75 L418.61 802.85 L421.46 765.3 L424.31 796.3 L427.16 784.28 L430 802.85 L432.85 780.32 L435.7 801.35 L438.54 803.81 L441.39 799.3 L444.24 806.81 L447.09 807.76 L449.93 804.35 L452.78 806.81 L455.63 808.72 L458.48 806.81 L461.32 807.36 L464.17 812.27 L467.02 820.74 L469.86 808.58 L472.71 809.81 L475.56 822.78 L478.41 816.23 L481.25 809.27 L484.1 803.26 L486.95 803.81 L489.79 828.79 L492.64 803.81 L495.49 819.78 L498.34 826.74 L501.18 818.14 L504.03 803.94 L506.88 818.82 L509.73 826.74 L512.57 817.73 L515.42 829.75 L518.27 826.33 L521.11 823.33 L523.96 830.29 L526.81 830.43 L529.66 829.75 L532.5 828.52 L535.35 829.75 L538.2 827.02 L541.04 828.52 L543.89 831.11 L546.74 830.43 L549.59 832.48 L552.43 831.11 L555.28 833.84 L558.13 833.84 L560.98 835.21 L563.82 834.53 L566.67 836.57 L569.52 837.26 L572.36 831.11 L575.21 835.21 L578.06 835.21 L580.91 833.84 L583.75 824.97 L586.6 839.99" fill="none" stroke="#000" stroke-width="1.1" stroke-linejoin="round"/><path d="M74.65 521.61h4.6v4.6h-4.6zM77.49 564.62h4.6v4.6h-4.6zM80.34 653.37h4.6v4.6h-4.6zM83.19 565.99h4.6v4.6h-4.6zM86.04 635.62h4.6v4.6h-4.6zM88.88 627.43h4.6v4.6h-4.6zM91.73 613.77h4.6v4.6h-4.6zM94.58 654.73h4.6v4.6h-4.6zM97.42 646.54h4.6v4.6h-4.6zM100.27 596.02h4.6v4.6h-4.6zM103.12 630.16h4.6v4.6h-4.6zM105.97 658.83h4.6v4.6h-4.6zM108.81 660.19h4.6v4.6h-4.6zM111.66 619.23h4.6v4.6h-4.6zM114.51 669.75h4.6v4.6h-4.6zM117.36 616.5h4.6v4.6h-4.6zM120.2 649.27h4.6v4.6h-4.6zM123.05 664.29h4.6v4.6h-4.6zM125.9 641.62h4.6v4.6h-4.6zM128.74 672.48h4.6v4.6h-4.6zM131.59 646.13h4.6v4.6h-4.6zM134.44 653.37h4.6v4.6h-4.6zM137.29 658.01h4.6v4.6h-4.6zM140.13 658.01h4.6v4.6h-4.6zM142.98 687.5h4.6v4.6h-4.6zM145.83 652h4.6v4.6h-4.6zM148.67 690.91h4.6v4.6h-4.6zM151.52 659.92h4.6v4.6h-4.6zM154.37 656.51h4.6v4.6h-4.6zM157.22 686.68h4.6v4.6h-4.6zM160.06 676.99h4.6v4.6h-4.6zM162.91 679.03h4.6v4.6h-4.6zM165.76 689.41h4.6v4.6h-4.6zM168.61 690.09h4.6v4.6h-4.6zM171.45 666.75h4.6v4.6h-4.6zM174.3 686h4.6v4.6h-4.6zM177.15 703.06h4.6v4.6h-4.6zM179.99 659.92h4.6v4.6h-4.6zM182.84 713.3h4.6v4.6h-4.6zM185.69 681.9h4.6v4.6h-4.6zM188.54 713.3h4.6v4.6h-4.6zM191.38 688.59h4.6v4.6h-4.6zM194.23 684.5h4.6v4.6h-4.6zM197.08 695.56h4.6v4.6h-4.6zM199.92 706.48h4.6v4.6h-4.6zM202.77 709.21h4.6v4.6h-4.6zM205.62 699.65h4.6v4.6h-4.6zM208.47 707.3h4.6v4.6h-4.6zM211.31 704.7h4.6v4.6h-4.6zM214.16 704.02h4.6v4.6h-4.6zM217.01 714.67h4.6v4.6h-4.6zM219.86 716.72h4.6v4.6h-4.6zM222.7 691.46h4.6v4.6h-4.6zM225.55 716.17h4.6v4.6h-4.6zM228.4 719.31h4.6v4.6h-4.6zM231.24 716.17h4.6v4.6h-4.6zM234.09 719.31h4.6v4.6h-4.6zM236.94 721.5h4.6v4.6h-4.6zM239.79 706.75h4.6v4.6h-4.6zM242.63 737.88h4.6v4.6h-4.6zM245.48 695.69h4.6v4.6h-4.6zM248.33 713.03h4.6v4.6h-4.6zM251.17 733.65h4.6v4.6h-4.6zM254.02 725.73h4.6v4.6h-4.6zM256.87 736.24h4.6v4.6h-4.6zM259.72 729.28h4.6v4.6h-4.6zM262.56 745.25h4.6v4.6h-4.6zM265.41 744.57h4.6v4.6h-4.6zM268.26 712.08h4.6v4.6h-4.6zM271.11 748.53h4.6v4.6h-4.6zM273.95 748.53h4.6v4.6h-4.6zM276.8 740.07h4.6v4.6h-4.6zM279.65 743.48h4.6v4.6h-4.6zM282.49 738.97h4.6v4.6h-4.6zM285.34 756.45h4.6v4.6h-4.6zM288.19 734.47h4.6v4.6h-4.6zM291.04 747.03h4.6v4.6h-4.6zM293.88 736.52h4.6v4.6h-4.6zM296.73 759.45h4.6v4.6h-4.6zM299.58 752.49h4.6v4.6h-4.6zM302.43 757.54h4.6v4.6h-4.6zM305.27 749.49h4.6v4.6h-4.6zM308.12 744.57h4.6v4.6h-4.6zM310.97 760.95h4.6v4.6h-4.6zM313.81 756.04h4.6v4.6h-4.6zM316.66 754.54h4.6v4.6h-4.6zM319.51 763.96h4.6v4.6h-4.6zM322.36 759.45h4.6v4.6h-4.6zM325.2 760.95h4.6v4.6h-4.6zM328.05 762.05h4.6v4.6h-4.6zM330.9 754.54h4.6v4.6h-4.6zM333.74 763h4.6v4.6h-4.6zM336.59 760h4.6v4.6h-4.6zM339.44 766.01h4.6v4.6h-4.6zM342.29 770.51h4.6v4.6h-4.6zM345.13 763.55h4.6v4.6h-4.6zM347.98 759.04h4.6v4.6h-4.6zM350.83 765.46h4.6v4.6h-4.6zM353.68 766.96h4.6v4.6h-4.6zM356.52 763.96h4.6v4.6h-4.6zM359.37 762.59h4.6v4.6h-4.6zM362.22 774.47h4.6v4.6h-4.6zM365.06 771.06h4.6v4.6h-4.6zM367.91 765.05h4.6v4.6h-4.6zM370.76 774.47h4.6v4.6h-4.6zM373.61 775.02h4.6v4.6h-4.6zM376.45 772.56h4.6v4.6h-4.6zM379.3 781.57h4.6v4.6h-4.6zM382.15 785.94h4.6v4.6h-4.6zM384.99 763.96h4.6v4.6h-4.6zM387.84 780.07h4.6v4.6h-4.6zM390.69 785.53h4.6v4.6h-4.6zM393.54 781.57h4.6v4.6h-4.6zM396.38 779.52h4.6v4.6h-4.6zM399.23 791.95h4.6v4.6h-4.6zM402.08 788.53h4.6v4.6h-4.6zM404.93 793.04h4.6v4.6h-4.6zM407.77 794.54h4.6v4.6h-4.6zM410.62 790.99h4.6v4.6h-4.6zM413.47 793.45h4.6v4.6h-4.6zM416.31 800.55h4.6v4.6h-4.6zM419.16 763h4.6v4.6h-4.6zM422.01 794h4.6v4.6h-4.6zM424.86 781.98h4.6v4.6h-4.6zM427.7 800.55h4.6v4.6h-4.6zM430.55 778.02h4.6v4.6h-4.6zM433.4 799.05h4.6v4.6h-4.6zM436.24 801.51h4.6v4.6h-4.6zM439.09 797h4.6v4.6h-4.6zM441.94 804.51h4.6v4.6h-4.6zM444.79 805.46h4.6v4.6h-4.6zM447.63 802.05h4.6v4.6h-4.6zM450.48 804.51h4.6v4.6h-4.6zM453.33 806.42h4.6v4.6h-4.6zM456.18 804.51h4.6v4.6h-4.6zM459.02 805.06h4.6v4.6h-4.6zM461.87 809.97h4.6v4.6h-4.6zM464.72 818.44h4.6v4.6h-4.6zM467.56 806.28h4.6v4.6h-4.6zM470.41 807.51h4.6v4.6h-4.6zM473.26 820.48h4.6v4.6h-4.6zM476.11 813.93h4.6v4.6h-4.6zM478.95 806.97h4.6v4.6h-4.6zM481.8 800.96h4.6v4.6h-4.6zM484.65 801.51h4.6v4.6h-4.6zM487.49 826.49h4.6v4.6h-4.6zM490.34 801.51h4.6v4.6h-4.6zM493.19 817.48h4.6v4.6h-4.6zM496.04 824.44h4.6v4.6h-4.6zM498.88 815.84h4.6v4.6h-4.6zM501.73 801.64h4.6v4.6h-4.6zM504.58 816.52h4.6v4.6h-4.6zM507.43 824.44h4.6v4.6h-4.6zM510.27 815.43h4.6v4.6h-4.6zM513.12 827.45h4.6v4.6h-4.6zM515.97 824.03h4.6v4.6h-4.6zM518.81 821.03h4.6v4.6h-4.6zM521.66 827.99h4.6v4.6h-4.6zM524.51 828.13h4.6v4.6h-4.6zM527.36 827.45h4.6v4.6h-4.6zM530.2 826.22h4.6v4.6h-4.6zM533.05 827.45h4.6v4.6h-4.6zM535.9 824.72h4.6v4.6h-4.6zM538.74 826.22h4.6v4.6h-4.6zM541.59 828.81h4.6v4.6h-4.6zM544.44 828.13h4.6v4.6h-4.6zM547.29 830.18h4.6v4.6h-4.6zM550.13 828.81h4.6v4.6h-4.6zM552.98 831.54h4.6v4.6h-4.6zM555.83 831.54h4.6v4.6h-4.6zM558.68 832.91h4.6v4.6h-4.6zM561.52 832.23h4.6v4.6h-4.6zM564.37 834.27h4.6v4.6h-4.6zM567.22 834.96h4.6v4.6h-4.6zM570.06 828.81h4.6v4.6h-4.6zM572.91 832.91h4.6v4.6h-4.6zM575.76 832.91h4.6v4.6h-4.6zM578.61 831.54h4.6v4.6h-4.6zM581.45 822.67h4.6v4.6h-4.6zM584.3 837.69h4.6v4.6h-4.6z" fill="#000"/><path d="M74.1 553.4 L76.95 561.46 L79.79 586.99 L82.64 652.66 L85.49 586.99 L88.34 642.56 L91.18 633.41 L94.03 626.59 L96.88 650.89 L99.72 658.4 L102.57 607.88 L105.42 637.51 L108.27 664.54 L111.11 664.54 L113.96 632.46 L116.81 678.88 L119.66 618.12 L122.5 663.86 L125.35 674.78 L128.2 650.21 L131.04 683.66 L133.89 658.57 L136.74 666.72 L139.59 668.6 L142.43 671.72 L145.28 698.65 L148.13 664.05 L150.97 704.6 L153.82 671.12 L156.67 670.24 L159.52 698.22 L162.36 690.53 L165.21 692.48 L168.06 701.06 L170.91 699.56 L173.75 680.07 L176.6 698.8 L179.45 713.68 L182.29 668.8 L185.14 724.23 L187.99 693.83 L190.84 722.09 L193.68 702.47 L196.53 693.96 L199.38 708.15 L202.22 719.88 L205.07 722.78 L207.92 712.2 L210.77 717.09 L213.61 717.98 L216.46 715.13 L219.31 725.49 L222.16 729.01 L225 702.81 L227.85 730.19 L230.7 733.37 L233.54 729.45 L236.39 730.02 L239.24 733.6 L242.09 719.5 L244.93 749.16 L247.78 707.71 L250.63 725.91 L253.47 743.85 L256.32 736.47 L259.17 749.48 L262.02 740.74 L264.86 757 L267.71 754.42 L270.56 722.74 L273.41 761.63 L276.25 757.87 L279.1 754.13 L281.95 755.92 L284.79 749.58 L287.64 770.38 L290.49 746.58 L293.34 761.62 L296.18 747.69 L299.03 770.12 L301.88 764.22 L304.73 767.56 L307.57 762.52 L310.42 755.46 L313.27 772.34 L316.11 767.44 L318.96 766.56 L321.81 773.83 L324.66 768.69 L327.5 772.7 L330.35 772.7 L333.2 768.43 L336.04 773.34 L338.89 770.57 L341.74 774.63 L344.59 780.01 L347.43 775.93 L350.28 770.81 L353.13 775.63 L355.98 780.6 L358.82 775.14 L361.67 775.32 L364.52 787.42 L367.36 784.26 L370.21 774.32 L373.06 787.18 L375.91 787.02 L378.75 783.72 L381.6 790.05 L384.45 798.68 L387.29 774.63 L390.14 790.13 L392.99 793.71 L395.84 790.04 L398.68 787.69 L401.53 803.26 L404.38 799.04 L407.23 803.79 L410.07 802.37 L412.92 798.36 L415.77 805.17 L418.61 812.02 L421.46 774.07 L424.31 804.95 L427.16 791.46 L430 809.36 L432.85 788.51 L435.7 810.85 L438.54 810.94 L441.39 806.6 L444.24 812.93 L447.09 811.67 L449.93 809.59 L452.78 812.9 L455.63 814.15 L458.48 811.82 L461.32 815.66 L464.17 815.86 L467.02 824.87 L469.86 812.1 L472.71 813.65 L475.56 828.87 L478.41 822.31 L481.25 817 L484.1 808.12 L486.95 811.83 L489.79 836.82 L492.64 811.1 L495.49 827.36 L498.34 833.38 L501.18 826.39 L504.03 812.51 L506.88 826.6 L509.73 834.82 L512.57 824.42 L515.42 838.31 L518.27 830.3 L521.11 828.75 L523.96 838.29 L526.81 837.89 L529.66 836.72 L532.5 835.44 L535.35 838.02 L538.2 831.36 L541.04 832.11 L543.89 837.61 L546.74 836.87 L549.59 841.12 L552.43 839.7 L555.28 841.15 L558.13 841.61 L560.98 839.93 L563.82 842.93 L566.67 845.77 L569.52 841.41 L572.36 837.61 L575.21 843.83 L578.06 841.7 L580.91 843.18 L583.75 831.61 L586.6 844.2" fill="none" stroke="#d81010" stroke-width="1.1" stroke-linejoin="round"/><path d="M71.3 553.4a2.8 2.8 0 1 0 5.6 0a2.8 2.8 0 1 0 -5.6 0M74.15 561.46a2.8 2.8 0 1 0 5.6 0a2.8 2.8 0 1 0 -5.6 0M76.99 586.99a2.8 2.8 0 1 0 5.6 0a2.8 2.8 0 1 0 -5.6 0M79.84 652.66a2.8 2.8 0 1 0 5.6 0a2.8 2.8 0 1 0 -5.6 0M82.69 586.99a2.8 2.8 0 1 0 5.6 0a2.8 2.8 0 1 0 -5.6 0M85.54 642.56a2.8 2.8 0 1 0 5.6 0a2.8 2.8 0 1 0 -5.6 0M88.38 633.41a2.8 2.8 0 1 0 5.6 0a2.8 2.8 0 1 0 -5.6 0M91.23 626.59a2.8 2.8 0 1 0 5.6 0a2.8 2.8 0 1 0 -5.6 0M94.08 650.89a2.8 2.8 0 1 0 5.6 0a2.8 2.8 0 1 0 -5.6 0M96.92 658.4a2.8 2.8 0 1 0 5.6 0a2.8 2.8 0 1 0 -5.6 0M99.77 607.88a2.8 2.8 0 1 0 5.6 0a2.8 2.8 0 1 0 -5.6 0M102.62 637.51a2.8 2.8 0 1 0 5.6 0a2.8 2.8 0 1 0 -5.6 0M105.47 664.54a2.8 2.8 0 1 0 5.6 0a2.8 2.8 0 1 0 -5.6 0M108.31 664.54a2.8 2.8 0 1 0 5.6 0a2.8 2.8 0 1 0 -5.6 0M111.16 632.46a2.8 2.8 0 1 0 5.6 0a2.8 2.8 0 1 0 -5.6 0M114.01 678.88a2.8 2.8 0 1 0 5.6 0a2.8 2.8 0 1 0 -5.6 0M116.86 618.12a2.8 2.8 0 1 0 5.6 0a2.8 2.8 0 1 0 -5.6 0M119.7 663.86a2.8 2.8 0 1 0 5.6 0a2.8 2.8 0 1 0 -5.6 0M122.55 674.78a2.8 2.8 0 1 0 5.6 0a2.8 2.8 0 1 0 -5.6 0M125.4 650.21a2.8 2.8 0 1 0 5.6 0a2.8 2.8 0 1 0 -5.6 0M128.24 683.66a2.8 2.8 0 1 0 5.6 0a2.8 2.8 0 1 0 -5.6 0M131.09 658.57a2.8 2.8 0 1 0 5.6 0a2.8 2.8 0 1 0 -5.6 0M133.94 666.72a2.8 2.8 0 1 0 5.6 0a2.8 2.8 0 1 0 -5.6 0M136.79 668.6a2.8 2.8 0 1 0 5.6 0a2.8 2.8 0 1 0 -5.6 0M139.63 671.72a2.8 2.8 0 1 0 5.6 0a2.8 2.8 0 1 0 -5.6 0M142.48 698.65a2.8 2.8 0 1 0 5.6 0a2.8 2.8 0 1 0 -5.6 0M145.33 664.05a2.8 2.8 0 1 0 5.6 0a2.8 2.8 0 1 0 -5.6 0M148.17 704.6a2.8 2.8 0 1 0 5.6 0a2.8 2.8 0 1 0 -5.6 0M151.02 671.12a2.8 2.8 0 1 0 5.6 0a2.8 2.8 0 1 0 -5.6 0M153.87 670.24a2.8 2.8 0 1 0 5.6 0a2.8 2.8 0 1 0 -5.6 0M156.72 698.22a2.8 2.8 0 1 0 5.6 0a2.8 2.8 0 1 0 -5.6 0M159.56 690.53a2.8 2.8 0 1 0 5.6 0a2.8 2.8 0 1 0 -5.6 0M162.41 692.48a2.8 2.8 0 1 0 5.6 0a2.8 2.8 0 1 0 -5.6 0M165.26 701.06a2.8 2.8 0 1 0 5.6 0a2.8 2.8 0 1 0 -5.6 0M168.11 699.56a2.8 2.8 0 1 0 5.6 0a2.8 2.8 0 1 0 -5.6 0M170.95 680.07a2.8 2.8 0 1 0 5.6 0a2.8 2.8 0 1 0 -5.6 0M173.8 698.8a2.8 2.8 0 1 0 5.6 0a2.8 2.8 0 1 0 -5.6 0M176.65 713.68a2.8 2.8 0 1 0 5.6 0a2.8 2.8 0 1 0 -5.6 0M179.49 668.8a2.8 2.8 0 1 0 5.6 0a2.8 2.8 0 1 0 -5.6 0M182.34 724.23a2.8 2.8 0 1 0 5.6 0a2.8 2.8 0 1 0 -5.6 0M185.19 693.83a2.8 2.8 0 1 0 5.6 0a2.8 2.8 0 1 0 -5.6 0M188.04 722.09a2.8 2.8 0 1 0 5.6 0a2.8 2.8 0 1 0 -5.6 0M190.88 702.47a2.8 2.8 0 1 0 5.6 0a2.8 2.8 0 1 0 -5.6 0M193.73 693.96a2.8 2.8 0 1 0 5.6 0a2.8 2.8 0 1 0 -5.6 0M196.58 708.15a2.8 2.8 0 1 0 5.6 0a2.8 2.8 0 1 0 -5.6 0M199.42 719.88a2.8 2.8 0 1 0 5.6 0a2.8 2.8 0 1 0 -5.6 0M202.27 722.78a2.8 2.8 0 1 0 5.6 0a2.8 2.8 0 1 0 -5.6 0M205.12 712.2a2.8 2.8 0 1 0 5.6 0a2.8 2.8 0 1 0 -5.6 0M207.97 717.09a2.8 2.8 0 1 0 5.6 0a2.8 2.8 0 1 0 -5.6 0M210.81 717.98a2.8 2.8 0 1 0 5.6 0a2.8 2.8 0 1 0 -5.6 0M213.66 715.13a2.8 2.8 0 1 0 5.6 0a2.8 2.8 0 1 0 -5.6 0M216.51 725.49a2.8 2.8 0 1 0 5.6 0a2.8 2.8 0 1 0 -5.6 0M219.36 729.01a2.8 2.8 0 1 0 5.6 0a2.8 2.8 0 1 0 -5.6 0M222.2 702.81a2.8 2.8 0 1 0 5.6 0a2.8 2.8 0 1 0 -5.6 0M225.05 730.19a2.8 2.8 0 1 0 5.6 0a2.8 2.8 0 1 0 -5.6 0M227.9 733.37a2.8 2.8 0 1 0 5.6 0a2.8 2.8 0 1 0 -5.6 0M230.74 729.45a2.8 2.8 0 1 0 5.6 0a2.8 2.8 0 1 0 -5.6 0M233.59 730.02a2.8 2.8 0 1 0 5.6 0a2.8 2.8 0 1 0 -5.6 0M236.44 733.6a2.8 2.8 0 1 0 5.6 0a2.8 2.8 0 1 0 -5.6 0M239.29 719.5a2.8 2.8 0 1 0 5.6 0a2.8 2.8 0 1 0 -5.6 0M242.13 749.16a2.8 2.8 0 1 0 5.6 0a2.8 2.8 0 1 0 -5.6 0M244.98 707.71a2.8 2.8 0 1 0 5.6 0a2.8 2.8 0 1 0 -5.6 0M247.83 725.91a2.8 2.8 0 1 0 5.6 0a2.8 2.8 0 1 0 -5.6 0M250.67 743.85a2.8 2.8 0 1 0 5.6 0a2.8 2.8 0 1 0 -5.6 0M253.52 736.47a2.8 2.8 0 1 0 5.6 0a2.8 2.8 0 1 0 -5.6 0M256.37 749.48a2.8 2.8 0 1 0 5.6 0a2.8 2.8 0 1 0 -5.6 0M259.22 740.74a2.8 2.8 0 1 0 5.6 0a2.8 2.8 0 1 0 -5.6 0M262.06 757a2.8 2.8 0 1 0 5.6 0a2.8 2.8 0 1 0 -5.6 0M264.91 754.42a2.8 2.8 0 1 0 5.6 0a2.8 2.8 0 1 0 -5.6 0M267.76 722.74a2.8 2.8 0 1 0 5.6 0a2.8 2.8 0 1 0 -5.6 0M270.61 761.63a2.8 2.8 0 1 0 5.6 0a2.8 2.8 0 1 0 -5.6 0M273.45 757.87a2.8 2.8 0 1 0 5.6 0a2.8 2.8 0 1 0 -5.6 0M276.3 754.13a2.8 2.8 0 1 0 5.6 0a2.8 2.8 0 1 0 -5.6 0M279.15 755.92a2.8 2.8 0 1 0 5.6 0a2.8 2.8 0 1 0 -5.6 0M281.99 749.58a2.8 2.8 0 1 0 5.6 0a2.8 2.8 0 1 0 -5.6 0M284.84 770.38a2.8 2.8 0 1 0 5.6 0a2.8 2.8 0 1 0 -5.6 0M287.69 746.58a2.8 2.8 0 1 0 5.6 0a2.8 2.8 0 1 0 -5.6 0M290.54 761.62a2.8 2.8 0 1 0 5.6 0a2.8 2.8 0 1 0 -5.6 0M293.38 747.69a2.8 2.8 0 1 0 5.6 0a2.8 2.8 0 1 0 -5.6 0M296.23 770.12a2.8 2.8 0 1 0 5.6 0a2.8 2.8 0 1 0 -5.6 0M299.08 764.22a2.8 2.8 0 1 0 5.6 0a2.8 2.8 0 1 0 -5.6 0M301.93 767.56a2.8 2.8 0 1 0 5.6 0a2.8 2.8 0 1 0 -5.6 0M304.77 762.52a2.8 2.8 0 1 0 5.6 0a2.8 2.8 0 1 0 -5.6 0M307.62 755.46a2.8 2.8 0 1 0 5.6 0a2.8 2.8 0 1 0 -5.6 0M310.47 772.34a2.8 2.8 0 1 0 5.6 0a2.8 2.8 0 1 0 -5.6 0M313.31 767.44a2.8 2.8 0 1 0 5.6 0a2.8 2.8 0 1 0 -5.6 0M316.16 766.56a2.8 2.8 0 1 0 5.6 0a2.8 2.8 0 1 0 -5.6 0M319.01 773.83a2.8 2.8 0 1 0 5.6 0a2.8 2.8 0 1 0 -5.6 0M321.86 768.69a2.8 2.8 0 1 0 5.6 0a2.8 2.8 0 1 0 -5.6 0M324.7 772.7a2.8 2.8 0 1 0 5.6 0a2.8 2.8 0 1 0 -5.6 0M327.55 772.7a2.8 2.8 0 1 0 5.6 0a2.8 2.8 0 1 0 -5.6 0M330.4 768.43a2.8 2.8 0 1 0 5.6 0a2.8 2.8 0 1 0 -5.6 0M333.24 773.34a2.8 2.8 0 1 0 5.6 0a2.8 2.8 0 1 0 -5.6 0M336.09 770.57a2.8 2.8 0 1 0 5.6 0a2.8 2.8 0 1 0 -5.6 0M338.94 774.63a2.8 2.8 0 1 0 5.6 0a2.8 2.8 0 1 0 -5.6 0M341.79 780.01a2.8 2.8 0 1 0 5.6 0a2.8 2.8 0 1 0 -5.6 0M344.63 775.93a2.8 2.8 0 1 0 5.6 0a2.8 2.8 0 1 0 -5.6 0M347.48 770.81a2.8 2.8 0 1 0 5.6 0a2.8 2.8 0 1 0 -5.6 0M350.33 775.63a2.8 2.8 0 1 0 5.6 0a2.8 2.8 0 1 0 -5.6 0M353.18 780.6a2.8 2.8 0 1 0 5.6 0a2.8 2.8 0 1 0 -5.6 0M356.02 775.14a2.8 2.8 0 1 0 5.6 0a2.8 2.8 0 1 0 -5.6 0M358.87 775.32a2.8 2.8 0 1 0 5.6 0a2.8 2.8 0 1 0 -5.6 0M361.72 787.42a2.8 2.8 0 1 0 5.6 0a2.8 2.8 0 1 0 -5.6 0M364.56 784.26a2.8 2.8 0 1 0 5.6 0a2.8 2.8 0 1 0 -5.6 0M367.41 774.32a2.8 2.8 0 1 0 5.6 0a2.8 2.8 0 1 0 -5.6 0M370.26 787.18a2.8 2.8 0 1 0 5.6 0a2.8 2.8 0 1 0 -5.6 0M373.11 787.02a2.8 2.8 0 1 0 5.6 0a2.8 2.8 0 1 0 -5.6 0M375.95 783.72a2.8 2.8 0 1 0 5.6 0a2.8 2.8 0 1 0 -5.6 0M378.8 790.05a2.8 2.8 0 1 0 5.6 0a2.8 2.8 0 1 0 -5.6 0M381.65 798.68a2.8 2.8 0 1 0 5.6 0a2.8 2.8 0 1 0 -5.6 0M384.49 774.63a2.8 2.8 0 1 0 5.6 0a2.8 2.8 0 1 0 -5.6 0M387.34 790.13a2.8 2.8 0 1 0 5.6 0a2.8 2.8 0 1 0 -5.6 0M390.19 793.71a2.8 2.8 0 1 0 5.6 0a2.8 2.8 0 1 0 -5.6 0M393.04 790.04a2.8 2.8 0 1 0 5.6 0a2.8 2.8 0 1 0 -5.6 0M395.88 787.69a2.8 2.8 0 1 0 5.6 0a2.8 2.8 0 1 0 -5.6 0M398.73 803.26a2.8 2.8 0 1 0 5.6 0a2.8 2.8 0 1 0 -5.6 0M401.58 799.04a2.8 2.8 0 1 0 5.6 0a2.8 2.8 0 1 0 -5.6 0M404.43 803.79a2.8 2.8 0 1 0 5.6 0a2.8 2.8 0 1 0 -5.6 0M407.27 802.37a2.8 2.8 0 1 0 5.6 0a2.8 2.8 0 1 0 -5.6 0M410.12 798.36a2.8 2.8 0 1 0 5.6 0a2.8 2.8 0 1 0 -5.6 0M412.97 805.17a2.8 2.8 0 1 0 5.6 0a2.8 2.8 0 1 0 -5.6 0M415.81 812.02a2.8 2.8 0 1 0 5.6 0a2.8 2.8 0 1 0 -5.6 0M418.66 774.07a2.8 2.8 0 1 0 5.6 0a2.8 2.8 0 1 0 -5.6 0M421.51 804.95a2.8 2.8 0 1 0 5.6 0a2.8 2.8 0 1 0 -5.6 0M424.36 791.46a2.8 2.8 0 1 0 5.6 0a2.8 2.8 0 1 0 -5.6 0M427.2 809.36a2.8 2.8 0 1 0 5.6 0a2.8 2.8 0 1 0 -5.6 0M430.05 788.51a2.8 2.8 0 1 0 5.6 0a2.8 2.8 0 1 0 -5.6 0M432.9 810.85a2.8 2.8 0 1 0 5.6 0a2.8 2.8 0 1 0 -5.6 0M435.74 810.94a2.8 2.8 0 1 0 5.6 0a2.8 2.8 0 1 0 -5.6 0M438.59 806.6a2.8 2.8 0 1 0 5.6 0a2.8 2.8 0 1 0 -5.6 0M441.44 812.93a2.8 2.8 0 1 0 5.6 0a2.8 2.8 0 1 0 -5.6 0M444.29 811.67a2.8 2.8 0 1 0 5.6 0a2.8 2.8 0 1 0 -5.6 0M447.13 809.59a2.8 2.8 0 1 0 5.6 0a2.8 2.8 0 1 0 -5.6 0M449.98 812.9a2.8 2.8 0 1 0 5.6 0a2.8 2.8 0 1 0 -5.6 0M452.83 814.15a2.8 2.8 0 1 0 5.6 0a2.8 2.8 0 1 0 -5.6 0M455.68 811.82a2.8 2.8 0 1 0 5.6 0a2.8 2.8 0 1 0 -5.6 0M458.52 815.66a2.8 2.8 0 1 0 5.6 0a2.8 2.8 0 1 0 -5.6 0M461.37 815.86a2.8 2.8 0 1 0 5.6 0a2.8 2.8 0 1 0 -5.6 0M464.22 824.87a2.8 2.8 0 1 0 5.6 0a2.8 2.8 0 1 0 -5.6 0M467.06 812.1a2.8 2.8 0 1 0 5.6 0a2.8 2.8 0 1 0 -5.6 0M469.91 813.65a2.8 2.8 0 1 0 5.6 0a2.8 2.8 0 1 0 -5.6 0M472.76 828.87a2.8 2.8 0 1 0 5.6 0a2.8 2.8 0 1 0 -5.6 0M475.61 822.31a2.8 2.8 0 1 0 5.6 0a2.8 2.8 0 1 0 -5.6 0M478.45 817a2.8 2.8 0 1 0 5.6 0a2.8 2.8 0 1 0 -5.6 0M481.3 808.12a2.8 2.8 0 1 0 5.6 0a2.8 2.8 0 1 0 -5.6 0M484.15 811.83a2.8 2.8 0 1 0 5.6 0a2.8 2.8 0 1 0 -5.6 0M486.99 836.82a2.8 2.8 0 1 0 5.6 0a2.8 2.8 0 1 0 -5.6 0M489.84 811.1a2.8 2.8 0 1 0 5.6 0a2.8 2.8 0 1 0 -5.6 0M492.69 827.36a2.8 2.8 0 1 0 5.6 0a2.8 2.8 0 1 0 -5.6 0M495.54 833.38a2.8 2.8 0 1 0 5.6 0a2.8 2.8 0 1 0 -5.6 0M498.38 826.39a2.8 2.8 0 1 0 5.6 0a2.8 2.8 0 1 0 -5.6 0M501.23 812.51a2.8 2.8 0 1 0 5.6 0a2.8 2.8 0 1 0 -5.6 0M504.08 826.6a2.8 2.8 0 1 0 5.6 0a2.8 2.8 0 1 0 -5.6 0M506.93 834.82a2.8 2.8 0 1 0 5.6 0a2.8 2.8 0 1 0 -5.6 0M509.77 824.42a2.8 2.8 0 1 0 5.6 0a2.8 2.8 0 1 0 -5.6 0M512.62 838.31a2.8 2.8 0 1 0 5.6 0a2.8 2.8 0 1 0 -5.6 0M515.47 830.3a2.8 2.8 0 1 0 5.6 0a2.8 2.8 0 1 0 -5.6 0M518.31 828.75a2.8 2.8 0 1 0 5.6 0a2.8 2.8 0 1 0 -5.6 0M521.16 838.29a2.8 2.8 0 1 0 5.6 0a2.8 2.8 0 1 0 -5.6 0M524.01 837.89a2.8 2.8 0 1 0 5.6 0a2.8 2.8 0 1 0 -5.6 0M526.86 836.72a2.8 2.8 0 1 0 5.6 0a2.8 2.8 0 1 0 -5.6 0M529.7 835.44a2.8 2.8 0 1 0 5.6 0a2.8 2.8 0 1 0 -5.6 0M532.55 838.02a2.8 2.8 0 1 0 5.6 0a2.8 2.8 0 1 0 -5.6 0M535.4 831.36a2.8 2.8 0 1 0 5.6 0a2.8 2.8 0 1 0 -5.6 0M538.24 832.11a2.8 2.8 0 1 0 5.6 0a2.8 2.8 0 1 0 -5.6 0M541.09 837.61a2.8 2.8 0 1 0 5.6 0a2.8 2.8 0 1 0 -5.6 0M543.94 836.87a2.8 2.8 0 1 0 5.6 0a2.8 2.8 0 1 0 -5.6 0M546.79 841.12a2.8 2.8 0 1 0 5.6 0a2.8 2.8 0 1 0 -5.6 0M549.63 839.7a2.8 2.8 0 1 0 5.6 0a2.8 2.8 0 1 0 -5.6 0M552.48 841.15a2.8 2.8 0 1 0 5.6 0a2.8 2.8 0 1 0 -5.6 0M555.33 841.61a2.8 2.8 0 1 0 5.6 0a2.8 2.8 0 1 0 -5.6 0M558.18 839.93a2.8 2.8 0 1 0 5.6 0a2.8 2.8 0 1 0 -5.6 0M561.02 842.93a2.8 2.8 0 1 0 5.6 0a2.8 2.8 0 1 0 -5.6 0M563.87 845.77a2.8 2.8 0 1 0 5.6 0a2.8 2.8 0 1 0 -5.6 0M566.72 841.41a2.8 2.8 0 1 0 5.6 0a2.8 2.8 0 1 0 -5.6 0M569.56 837.61a2.8 2.8 0 1 0 5.6 0a2.8 2.8 0 1 0 -5.6 0M572.41 843.83a2.8 2.8 0 1 0 5.6 0a2.8 2.8 0 1 0 -5.6 0M575.26 841.7a2.8 2.8 0 1 0 5.6 0a2.8 2.8 0 1 0 -5.6 0M578.11 843.18a2.8 2.8 0 1 0 5.6 0a2.8 2.8 0 1 0 -5.6 0M580.95 831.61a2.8 2.8 0 1 0 5.6 0a2.8 2.8 0 1 0 -5.6 0M583.8 844.2a2.8 2.8 0 1 0 5.6 0a2.8 2.8 0 1 0 -5.6 0" fill="#f00"/><path d="M74.1 565.96 L76.95 571.02 L79.79 599.55 L82.64 656.08 L85.49 588.63 L88.34 645.97 L91.18 637.51 L94.03 630.68 L96.88 662.9 L99.72 657.03 L102.57 605.42 L105.42 642.56 L108.27 670.41 L111.11 670.41 L113.96 639.28 L116.81 682.29 L119.66 623.17 L122.5 669.32 L125.35 682.97 L128.2 656.08 L131.04 692.53 L133.89 661.86 L136.74 670.44 L139.59 678.26 L142.43 677.74 L145.28 708.8 L148.13 669.38 L150.97 710.13 L153.82 677.65 L156.67 677.51 L159.52 708.62 L162.36 694.98 L165.21 695.91 L168.06 707.26 L170.91 708.33 L173.75 684.96 L176.6 704.82 L179.45 725.46 L182.29 680.4 L185.14 734.95 L187.99 705.85 L190.84 737.33 L193.68 710.97 L196.53 707.08 L199.38 715.25 L202.22 724.43 L205.07 730.71 L207.92 717.88 L210.77 725.24 L213.61 722.94 L216.46 726.36 L219.31 738.06 L222.16 740.13 L225 715.15 L227.85 739.88 L230.7 740.22 L233.54 735.26 L236.39 738.88 L239.24 743.6 L242.09 727.74 L244.93 757.93 L247.78 720.69 L250.63 734.17 L253.47 753.15 L256.32 746.17 L259.17 756.97 L262.02 751.94 L264.86 770.02 L267.71 765.24 L270.56 735.93 L273.41 769.26 L276.25 768.16 L279.1 763.69 L281.95 767.14 L284.79 758.98 L287.64 778.04 L290.49 759.91 L293.34 772.83 L296.18 762.22 L299.03 780.08 L301.88 773.86 L304.73 783.37 L307.57 770.62 L310.42 764.6 L313.27 783.14 L316.11 780.27 L318.96 777.36 L321.81 789.58 L324.66 785.82 L327.5 780.74 L330.35 783.98 L333.2 777.26 L336.04 782.89 L338.89 783.25 L341.74 786.21 L344.59 790.98 L347.43 788.17 L350.28 783.33 L353.13 789.41 L355.98 791.22 L358.82 785.81 L361.67 786.62 L364.52 797.36 L367.36 795.86 L370.21 784.49 L373.06 797.65 L375.91 797.43 L378.75 794.07 L381.6 800.84 L384.45 808.46 L387.29 783.03 L390.14 801.93 L392.99 807.14 L395.84 803.18 L398.68 804.53 L401.53 814.03 L404.38 812.32 L407.23 818 L410.07 814.02 L412.92 814.69 L415.77 815.05 L418.61 820.12 L421.46 783.42 L424.31 815.68 L427.16 802.04 L430 820.05 L432.85 795.65 L435.7 821 L438.54 820.05 L441.39 817.37 L444.24 824.37 L447.09 821.64 L449.93 819.73 L452.78 821.51 L455.63 821.76 L458.48 818.5 L461.32 821.94 L464.17 825.39 L467.02 834.28 L469.86 821.78 L472.71 821.47 L475.56 836.06 L478.41 828.94 L481.25 822.34 L484.1 813.15 L486.95 815.33 L489.79 839.09 L492.64 813.64 L495.49 834.26 L498.34 839.15 L501.18 827.92 L504.03 814.4 L506.88 834.07 L509.73 842.07 L512.57 830.86 L515.42 845.38 L518.27 840.8 L521.11 838.92 L523.96 841.8 L526.81 841.14 L529.66 839.67 L532.5 843.49 L535.35 840.87 L538.2 838.5 L541.04 843.52 L543.89 841.04 L546.74 839.76 L549.59 846.9 L552.43 840.52 L555.28 847.01 L558.13 846.39 L560.98 844.31 L563.82 844.68 L566.67 851.29 L569.52 850.11 L572.36 843.38 L575.21 848.66 L578.06 849.62 L580.91 847.4 L583.75 835.76 L586.6 855.55" fill="none" stroke="#00f" stroke-width="1.1" stroke-linejoin="round"/><path d="M74.1 562.06l3.2 5.9h-6.4zM76.95 567.12l3.2 5.9h-6.4zM79.79 595.65l3.2 5.9h-6.4zM82.64 652.18l3.2 5.9h-6.4zM85.49 584.73l3.2 5.9h-6.4zM88.34 642.07l3.2 5.9h-6.4zM91.18 633.61l3.2 5.9h-6.4zM94.03 626.78l3.2 5.9h-6.4zM96.88 659l3.2 5.9h-6.4zM99.72 653.13l3.2 5.9h-6.4zM102.57 601.52l3.2 5.9h-6.4zM105.42 638.66l3.2 5.9h-6.4zM108.27 666.51l3.2 5.9h-6.4zM111.11 666.51l3.2 5.9h-6.4zM113.96 635.38l3.2 5.9h-6.4zM116.81 678.39l3.2 5.9h-6.4zM119.66 619.27l3.2 5.9h-6.4zM122.5 665.42l3.2 5.9h-6.4zM125.35 679.07l3.2 5.9h-6.4zM128.2 652.18l3.2 5.9h-6.4zM131.04 688.63l3.2 5.9h-6.4zM133.89 657.96l3.2 5.9h-6.4zM136.74 666.54l3.2 5.9h-6.4zM139.59 674.36l3.2 5.9h-6.4zM142.43 673.84l3.2 5.9h-6.4zM145.28 704.9l3.2 5.9h-6.4zM148.13 665.48l3.2 5.9h-6.4zM150.97 706.23l3.2 5.9h-6.4zM153.82 673.75l3.2 5.9h-6.4zM156.67 673.61l3.2 5.9h-6.4zM159.52 704.72l3.2 5.9h-6.4zM162.36 691.08l3.2 5.9h-6.4zM165.21 692.01l3.2 5.9h-6.4zM168.06 703.36l3.2 5.9h-6.4zM170.91 704.43l3.2 5.9h-6.4zM173.75 681.06l3.2 5.9h-6.4zM176.6 700.92l3.2 5.9h-6.4zM179.45 721.56l3.2 5.9h-6.4zM182.29 676.5l3.2 5.9h-6.4zM185.14 731.05l3.2 5.9h-6.4zM187.99 701.95l3.2 5.9h-6.4zM190.84 733.43l3.2 5.9h-6.4zM193.68 707.07l3.2 5.9h-6.4zM196.53 703.18l3.2 5.9h-6.4zM199.38 711.35l3.2 5.9h-6.4zM202.22 720.53l3.2 5.9h-6.4zM205.07 726.81l3.2 5.9h-6.4zM207.92 713.98l3.2 5.9h-6.4zM210.77 721.34l3.2 5.9h-6.4zM213.61 719.04l3.2 5.9h-6.4zM216.46 722.46l3.2 5.9h-6.4zM219.31 734.16l3.2 5.9h-6.4zM222.16 736.23l3.2 5.9h-6.4zM225 711.25l3.2 5.9h-6.4zM227.85 735.98l3.2 5.9h-6.4zM230.7 736.32l3.2 5.9h-6.4zM233.54 731.36l3.2 5.9h-6.4zM236.39 734.98l3.2 5.9h-6.4zM239.24 739.7l3.2 5.9h-6.4zM242.09 723.84l3.2 5.9h-6.4zM244.93 754.03l3.2 5.9h-6.4zM247.78 716.79l3.2 5.9h-6.4zM250.63 730.27l3.2 5.9h-6.4zM253.47 749.25l3.2 5.9h-6.4zM256.32 742.27l3.2 5.9h-6.4zM259.17 753.07l3.2 5.9h-6.4zM262.02 748.04l3.2 5.9h-6.4zM264.86 766.12l3.2 5.9h-6.4zM267.71 761.34l3.2 5.9h-6.4zM270.56 732.03l3.2 5.9h-6.4zM273.41 765.36l3.2 5.9h-6.4zM276.25 764.26l3.2 5.9h-6.4zM279.1 759.79l3.2 5.9h-6.4zM281.95 763.24l3.2 5.9h-6.4zM284.79 755.08l3.2 5.9h-6.4zM287.64 774.14l3.2 5.9h-6.4zM290.49 756.01l3.2 5.9h-6.4zM293.34 768.93l3.2 5.9h-6.4zM296.18 758.32l3.2 5.9h-6.4zM299.03 776.18l3.2 5.9h-6.4zM301.88 769.96l3.2 5.9h-6.4zM304.73 779.47l3.2 5.9h-6.4zM307.57 766.72l3.2 5.9h-6.4zM310.42 760.7l3.2 5.9h-6.4zM313.27 779.24l3.2 5.9h-6.4zM316.11 776.37l3.2 5.9h-6.4zM318.96 773.46l3.2 5.9h-6.4zM321.81 785.68l3.2 5.9h-6.4zM324.66 781.92l3.2 5.9h-6.4zM327.5 776.84l3.2 5.9h-6.4zM330.35 780.08l3.2 5.9h-6.4zM333.2 773.36l3.2 5.9h-6.4zM336.04 778.99l3.2 5.9h-6.4zM338.89 779.35l3.2 5.9h-6.4zM341.74 782.31l3.2 5.9h-6.4zM344.59 787.08l3.2 5.9h-6.4zM347.43 784.27l3.2 5.9h-6.4zM350.28 779.43l3.2 5.9h-6.4zM353.13 785.51l3.2 5.9h-6.4zM355.98 787.32l3.2 5.9h-6.4zM358.82 781.91l3.2 5.9h-6.4zM361.67 782.72l3.2 5.9h-6.4zM364.52 793.46l3.2 5.9h-6.4zM367.36 791.96l3.2 5.9h-6.4zM370.21 780.59l3.2 5.9h-6.4zM373.06 793.75l3.2 5.9h-6.4zM375.91 793.53l3.2 5.9h-6.4zM378.75 790.17l3.2 5.9h-6.4zM381.6 796.94l3.2 5.9h-6.4zM384.45 804.56l3.2 5.9h-6.4zM387.29 779.13l3.2 5.9h-6.4zM390.14 798.03l3.2 5.9h-6.4zM392.99 803.24l3.2 5.9h-6.4zM395.84 799.28l3.2 5.9h-6.4zM398.68 800.63l3.2 5.9h-6.4zM401.53 810.13l3.2 5.9h-6.4zM404.38 808.42l3.2 5.9h-6.4zM407.23 814.1l3.2 5.9h-6.4zM410.07 810.12l3.2 5.9h-6.4zM412.92 810.79l3.2 5.9h-6.4zM415.77 811.15l3.2 5.9h-6.4zM418.61 816.22l3.2 5.9h-6.4zM421.46 779.52l3.2 5.9h-6.4zM424.31 811.78l3.2 5.9h-6.4zM427.16 798.14l3.2 5.9h-6.4zM430 816.15l3.2 5.9h-6.4zM432.85 791.75l3.2 5.9h-6.4zM435.7 817.1l3.2 5.9h-6.4zM438.54 816.15l3.2 5.9h-6.4zM441.39 813.47l3.2 5.9h-6.4zM444.24 820.47l3.2 5.9h-6.4zM447.09 817.74l3.2 5.9h-6.4zM449.93 815.83l3.2 5.9h-6.4zM452.78 817.61l3.2 5.9h-6.4zM455.63 817.86l3.2 5.9h-6.4zM458.48 814.6l3.2 5.9h-6.4zM461.32 818.04l3.2 5.9h-6.4zM464.17 821.49l3.2 5.9h-6.4zM467.02 830.38l3.2 5.9h-6.4zM469.86 817.88l3.2 5.9h-6.4zM472.71 817.57l3.2 5.9h-6.4zM475.56 832.16l3.2 5.9h-6.4zM478.41 825.04l3.2 5.9h-6.4zM481.25 818.44l3.2 5.9h-6.4zM484.1 809.25l3.2 5.9h-6.4zM486.95 811.43l3.2 5.9h-6.4zM489.79 835.19l3.2 5.9h-6.4zM492.64 809.74l3.2 5.9h-6.4zM495.49 830.36l3.2 5.9h-6.4zM498.34 835.25l3.2 5.9h-6.4zM501.18 824.02l3.2 5.9h-6.4zM504.03 810.5l3.2 5.9h-6.4zM506.88 830.17l3.2 5.9h-6.4zM509.73 838.17l3.2 5.9h-6.4zM512.57 826.96l3.2 5.9h-6.4zM515.42 841.48l3.2 5.9h-6.4zM518.27 836.9l3.2 5.9h-6.4zM521.11 835.02l3.2 5.9h-6.4zM523.96 837.9l3.2 5.9h-6.4zM526.81 837.24l3.2 5.9h-6.4zM529.66 835.77l3.2 5.9h-6.4zM532.5 839.59l3.2 5.9h-6.4zM535.35 836.97l3.2 5.9h-6.4zM538.2 834.6l3.2 5.9h-6.4zM541.04 839.62l3.2 5.9h-6.4zM543.89 837.14l3.2 5.9h-6.4zM546.74 835.86l3.2 5.9h-6.4zM549.59 843l3.2 5.9h-6.4zM552.43 836.62l3.2 5.9h-6.4zM555.28 843.11l3.2 5.9h-6.4zM558.13 842.49l3.2 5.9h-6.4zM560.98 840.41l3.2 5.9h-6.4zM563.82 840.78l3.2 5.9h-6.4zM566.67 847.39l3.2 5.9h-6.4zM569.52 846.21l3.2 5.9h-6.4zM572.36 839.48l3.2 5.9h-6.4zM575.21 844.76l3.2 5.9h-6.4zM578.06 845.72l3.2 5.9h-6.4zM580.91 843.5l3.2 5.9h-6.4zM583.75 831.86l3.2 5.9h-6.4zM586.6 851.65l3.2 5.9h-6.4z" fill="#00f"/><path d="M74.1 570.2 L76.95 580.16 L79.79 605.42 L82.64 665.36 L85.49 601.74 L88.34 658.67 L91.18 649.39 L94.03 644.2 L96.88 678.88 L99.72 674.64 L102.57 621.53 L105.42 661.13 L108.27 687.21 L111.11 688.98 L113.96 659.49 L116.81 704.96 L119.66 647.61 L122.5 691.44 L125.35 698.27 L128.2 682.97 L131.04 708.37 L133.89 689.77 L136.74 698.75 L139.59 707.67 L142.43 705.93 L145.28 733.84 L148.13 699.26 L150.97 741.84 L153.82 703.3 L156.67 701.5 L159.52 730.17 L162.36 727.74 L165.21 728.64 L168.06 741.03 L170.91 735.82 L173.75 716.8 L176.6 737.37 L179.45 752.2 L182.29 705.22 L185.14 759.52 L187.99 732.87 L190.84 765.34 L193.68 734.48 L196.53 733.4 L199.38 743.56 L202.22 759.65 L205.07 762.81 L207.92 748.25 L210.77 758.21 L213.61 758.67 L216.46 751.06 L219.31 764.37 L222.16 765.21 L225 745.99 L227.85 764.54 L230.7 774.31 L233.54 764.71 L236.39 771.25 L239.24 774.43 L242.09 757.99 L244.93 786.11 L247.78 749.37 L250.63 767.9 L253.47 785.32 L256.32 779.82 L259.17 791.44 L262.02 784.11 L264.86 801.04 L267.71 799.18 L270.56 765.83 L273.41 802.4 L276.25 798.73 L279.1 794.17 L281.95 795.91 L284.79 794.1 L287.64 810.25 L290.49 791.01 L293.34 801.73 L296.18 793.19 L299.03 810.31 L301.88 804.89 L304.73 812.77 L307.57 802.24 L310.42 793.42 L313.27 816.45 L316.11 805.56 L318.96 807.09 L321.81 815.86 L324.66 808.44 L327.5 813.42 L330.35 813.44 L333.2 804.32 L336.04 810.23 L338.89 812.33 L341.74 814.19 L344.59 819.59 L347.43 813.07 L350.28 810.32 L353.13 817.07 L355.98 820.84 L358.82 817.08 L361.67 815.83 L364.52 821.86 L367.36 822.05 L370.21 816.44 L373.06 826.14 L375.91 820.12 L378.75 817.06 L381.6 827.35 L384.45 834.54 L387.29 812.52 L390.14 827.85 L392.99 831.58 L395.84 829.73 L398.68 824.96 L401.53 838.51 L404.38 829.01 L407.23 833.07 L410.07 837.69 L412.92 836.25 L415.77 832.44 L418.61 844.55 L421.46 806.25 L424.31 839.8 L427.16 824.3 L430 841.74 L432.85 818.62 L435.7 841.75 L438.54 841.36 L441.39 840.58 L444.24 845.6 L447.09 847.78 L449.93 841.63 L452.78 846.81 L455.63 848.68 L458.48 844.25 L461.32 845.18 L464.17 847 L467.02 855.72 L469.86 841.55 L472.71 843.34 L475.56 855.63 L478.41 847.53 L481.25 844.37 L484.1 838.68 L486.95 833.63 L489.79 865.25 L492.64 835.35 L495.49 851.78 L498.34 863.45 L501.18 848.16 L504.03 833.45 L506.88 850.46 L509.73 857.46 L512.57 847.76 L515.42 865.24 L518.27 858.63 L521.11 855.74 L523.96 859.95 L526.81 860.29 L529.66 859.39 L532.5 860.1 L535.35 858.75 L538.2 857.69 L541.04 859.06 L543.89 865.41 L546.74 866.31 L549.59 867.48 L552.43 864.2 L555.28 868.98 L558.13 862.95 L560.98 866.54 L563.82 865.25 L566.67 867.26 L569.52 867.45 L572.36 862.83 L575.21 870.86 L578.06 864.31 L580.91 863.3 L583.75 856.39 L586.6 871.1" fill="none" stroke="#f0f" stroke-width="1.1" stroke-linejoin="round"/><path d="M74.1 574.1l3.2 -5.9h-6.4zM76.95 584.06l3.2 -5.9h-6.4zM79.79 609.32l3.2 -5.9h-6.4zM82.64 669.26l3.2 -5.9h-6.4zM85.49 605.64l3.2 -5.9h-6.4zM88.34 662.57l3.2 -5.9h-6.4zM91.18 653.29l3.2 -5.9h-6.4zM94.03 648.1l3.2 -5.9h-6.4zM96.88 682.78l3.2 -5.9h-6.4zM99.72 678.54l3.2 -5.9h-6.4zM102.57 625.43l3.2 -5.9h-6.4zM105.42 665.03l3.2 -5.9h-6.4zM108.27 691.11l3.2 -5.9h-6.4zM111.11 692.88l3.2 -5.9h-6.4zM113.96 663.39l3.2 -5.9h-6.4zM116.81 708.86l3.2 -5.9h-6.4zM119.66 651.51l3.2 -5.9h-6.4zM122.5 695.34l3.2 -5.9h-6.4zM125.35 702.17l3.2 -5.9h-6.4zM128.2 686.87l3.2 -5.9h-6.4zM131.04 712.27l3.2 -5.9h-6.4zM133.89 693.67l3.2 -5.9h-6.4zM136.74 702.65l3.2 -5.9h-6.4zM139.59 711.57l3.2 -5.9h-6.4zM142.43 709.83l3.2 -5.9h-6.4zM145.28 737.74l3.2 -5.9h-6.4zM148.13 703.16l3.2 -5.9h-6.4zM150.97 745.74l3.2 -5.9h-6.4zM153.82 707.2l3.2 -5.9h-6.4zM156.67 705.4l3.2 -5.9h-6.4zM159.52 734.07l3.2 -5.9h-6.4zM162.36 731.64l3.2 -5.9h-6.4zM165.21 732.54l3.2 -5.9h-6.4zM168.06 744.93l3.2 -5.9h-6.4zM170.91 739.72l3.2 -5.9h-6.4zM173.75 720.7l3.2 -5.9h-6.4zM176.6 741.27l3.2 -5.9h-6.4zM179.45 756.1l3.2 -5.9h-6.4zM182.29 709.12l3.2 -5.9h-6.4zM185.14 763.42l3.2 -5.9h-6.4zM187.99 736.77l3.2 -5.9h-6.4zM190.84 769.24l3.2 -5.9h-6.4zM193.68 738.38l3.2 -5.9h-6.4zM196.53 737.3l3.2 -5.9h-6.4zM199.38 747.46l3.2 -5.9h-6.4zM202.22 763.55l3.2 -5.9h-6.4zM205.07 766.71l3.2 -5.9h-6.4zM207.92 752.15l3.2 -5.9h-6.4zM210.77 762.11l3.2 -5.9h-6.4zM213.61 762.57l3.2 -5.9h-6.4zM216.46 754.96l3.2 -5.9h-6.4zM219.31 768.27l3.2 -5.9h-6.4zM222.16 769.11l3.2 -5.9h-6.4zM225 749.89l3.2 -5.9h-6.4zM227.85 768.44l3.2 -5.9h-6.4zM230.7 778.21l3.2 -5.9h-6.4zM233.54 768.61l3.2 -5.9h-6.4zM236.39 775.15l3.2 -5.9h-6.4zM239.24 778.33l3.2 -5.9h-6.4zM242.09 761.89l3.2 -5.9h-6.4zM244.93 790.01l3.2 -5.9h-6.4zM247.78 753.27l3.2 -5.9h-6.4zM250.63 771.8l3.2 -5.9h-6.4zM253.47 789.22l3.2 -5.9h-6.4zM256.32 783.72l3.2 -5.9h-6.4zM259.17 795.34l3.2 -5.9h-6.4zM262.02 788.01l3.2 -5.9h-6.4zM264.86 804.94l3.2 -5.9h-6.4zM267.71 803.08l3.2 -5.9h-6.4zM270.56 769.73l3.2 -5.9h-6.4zM273.41 806.3l3.2 -5.9h-6.4zM276.25 802.63l3.2 -5.9h-6.4zM279.1 798.07l3.2 -5.9h-6.4zM281.95 799.81l3.2 -5.9h-6.4zM284.79 798l3.2 -5.9h-6.4zM287.64 814.15l3.2 -5.9h-6.4zM290.49 794.91l3.2 -5.9h-6.4zM293.34 805.63l3.2 -5.9h-6.4zM296.18 797.09l3.2 -5.9h-6.4zM299.03 814.21l3.2 -5.9h-6.4zM301.88 808.79l3.2 -5.9h-6.4zM304.73 816.67l3.2 -5.9h-6.4zM307.57 806.14l3.2 -5.9h-6.4zM310.42 797.32l3.2 -5.9h-6.4zM313.27 820.35l3.2 -5.9h-6.4zM316.11 809.46l3.2 -5.9h-6.4zM318.96 810.99l3.2 -5.9h-6.4zM321.81 819.76l3.2 -5.9h-6.4zM324.66 812.34l3.2 -5.9h-6.4zM327.5 817.32l3.2 -5.9h-6.4zM330.35 817.34l3.2 -5.9h-6.4zM333.2 808.22l3.2 -5.9h-6.4zM336.04 814.13l3.2 -5.9h-6.4zM338.89 816.23l3.2 -5.9h-6.4zM341.74 818.09l3.2 -5.9h-6.4zM344.59 823.49l3.2 -5.9h-6.4zM347.43 816.97l3.2 -5.9h-6.4zM350.28 814.22l3.2 -5.9h-6.4zM353.13 820.97l3.2 -5.9h-6.4zM355.98 824.74l3.2 -5.9h-6.4zM358.82 820.98l3.2 -5.9h-6.4zM361.67 819.73l3.2 -5.9h-6.4zM364.52 825.76l3.2 -5.9h-6.4zM367.36 825.95l3.2 -5.9h-6.4zM370.21 820.34l3.2 -5.9h-6.4zM373.06 830.04l3.2 -5.9h-6.4zM375.91 824.02l3.2 -5.9h-6.4zM378.75 820.96l3.2 -5.9h-6.4zM381.6 831.25l3.2 -5.9h-6.4zM384.45 838.44l3.2 -5.9h-6.4zM387.29 816.42l3.2 -5.9h-6.4zM390.14 831.75l3.2 -5.9h-6.4zM392.99 835.48l3.2 -5.9h-6.4zM395.84 833.63l3.2 -5.9h-6.4zM398.68 828.86l3.2 -5.9h-6.4zM401.53 842.41l3.2 -5.9h-6.4zM404.38 832.91l3.2 -5.9h-6.4zM407.23 836.97l3.2 -5.9h-6.4zM410.07 841.59l3.2 -5.9h-6.4zM412.92 840.15l3.2 -5.9h-6.4zM415.77 836.34l3.2 -5.9h-6.4zM418.61 848.45l3.2 -5.9h-6.4zM421.46 810.15l3.2 -5.9h-6.4zM424.31 843.7l3.2 -5.9h-6.4zM427.16 828.2l3.2 -5.9h-6.4zM430 845.64l3.2 -5.9h-6.4zM432.85 822.52l3.2 -5.9h-6.4zM435.7 845.65l3.2 -5.9h-6.4zM438.54 845.26l3.2 -5.9h-6.4zM441.39 844.48l3.2 -5.9h-6.4zM444.24 849.5l3.2 -5.9h-6.4zM447.09 851.68l3.2 -5.9h-6.4zM449.93 845.53l3.2 -5.9h-6.4zM452.78 850.71l3.2 -5.9h-6.4zM455.63 852.58l3.2 -5.9h-6.4zM458.48 848.15l3.2 -5.9h-6.4zM461.32 849.08l3.2 -5.9h-6.4zM464.17 850.9l3.2 -5.9h-6.4zM467.02 859.62l3.2 -5.9h-6.4zM469.86 845.45l3.2 -5.9h-6.4zM472.71 847.24l3.2 -5.9h-6.4zM475.56 859.53l3.2 -5.9h-6.4zM478.41 851.43l3.2 -5.9h-6.4zM481.25 848.27l3.2 -5.9h-6.4zM484.1 842.58l3.2 -5.9h-6.4zM486.95 837.53l3.2 -5.9h-6.4zM489.79 869.15l3.2 -5.9h-6.4zM492.64 839.25l3.2 -5.9h-6.4zM495.49 855.68l3.2 -5.9h-6.4zM498.34 867.35l3.2 -5.9h-6.4zM501.18 852.06l3.2 -5.9h-6.4zM504.03 837.35l3.2 -5.9h-6.4zM506.88 854.36l3.2 -5.9h-6.4zM509.73 861.36l3.2 -5.9h-6.4zM512.57 851.66l3.2 -5.9h-6.4zM515.42 869.14l3.2 -5.9h-6.4zM518.27 862.53l3.2 -5.9h-6.4zM521.11 859.64l3.2 -5.9h-6.4zM523.96 863.85l3.2 -5.9h-6.4zM526.81 864.19l3.2 -5.9h-6.4zM529.66 863.29l3.2 -5.9h-6.4zM532.5 864l3.2 -5.9h-6.4zM535.35 862.65l3.2 -5.9h-6.4zM538.2 861.59l3.2 -5.9h-6.4zM541.04 862.96l3.2 -5.9h-6.4zM543.89 869.31l3.2 -5.9h-6.4zM546.74 870.21l3.2 -5.9h-6.4zM549.59 871.38l3.2 -5.9h-6.4zM552.43 868.1l3.2 -5.9h-6.4zM555.28 872.88l3.2 -5.9h-6.4zM558.13 866.85l3.2 -5.9h-6.4zM560.98 870.44l3.2 -5.9h-6.4zM563.82 869.15l3.2 -5.9h-6.4zM566.67 871.16l3.2 -5.9h-6.4zM569.52 871.35l3.2 -5.9h-6.4zM572.36 866.73l3.2 -5.9h-6.4zM575.21 874.76l3.2 -5.9h-6.4zM578.06 868.21l3.2 -5.9h-6.4zM580.91 867.2l3.2 -5.9h-6.4zM583.75 860.29l3.2 -5.9h-6.4zM586.6 875l3.2 -5.9h-6.4z" fill="#f0f"/><path d="M74.1 661.95 L76.95 648.43 L79.79 674.64 L82.64 735.4 L85.49 669.59 L88.34 726.94 L91.18 720.93 L94.03 716.01 L96.88 750.97 L99.72 747.14 L102.57 703.32 L105.42 736.22 L108.27 760.66 L111.11 764.89 L113.96 731.99 L116.81 778.41 L119.66 723.52 L122.5 765.71 L125.35 774.18 L128.2 756.43 L131.04 785.1 L133.89 773.09 L136.74 774.72 L139.59 778.55 L142.43 775.82 L145.28 804.9 L148.13 771.99 L150.97 808.99 L153.82 777.18 L156.67 775.82 L159.52 804.9 L162.36 796.02 L165.21 797.93 L168.06 808.99 L170.91 809.95 L173.75 789.2 L176.6 806.4 L179.45 821.42 L182.29 781 L185.14 833.02 L187.99 798.89 L190.84 832.34 L193.68 806.4 L196.53 805.85 L199.38 811.31 L202.22 824.01 L205.07 826.33 L207.92 815.72 L210.77 829.57 L213.61 819.38 L216.46 823.72 L219.31 836.03 L222.16 835.72 L225 805.12 L227.85 835.29 L230.7 832.32 L233.54 826.14 L236.39 834.09 L239.24 837.04 L242.09 820.78 L244.93 849.22 L247.78 805.67 L250.63 824.19 L253.47 844.07 L256.32 841.87 L259.17 851.17 L262.02 842.58 L264.86 852.76 L267.71 856.41 L270.56 820.59 L273.41 862.65 L276.25 861.58 L279.1 850.29 L281.95 848.76 L284.79 843.49 L287.64 860.6 L290.49 842.27 L293.34 851.82 L296.18 841.33 L299.03 863.7 L301.88 859.99 L304.73 856.03 L307.57 855.01 L310.42 841.04 L313.27 857.34 L316.11 861.91 L318.96 855.23 L321.81 860.34 L324.66 853.85 L327.5 860.65 L330.35 863.36 L333.2 856.13 L336.04 856.19 L338.89 860.85 L341.74 862.44 L344.59 871.39 L347.43 859.89 L350.28 850.33 L353.13 865.34 L355.98 858.97 L358.82 859.01 L361.67 852.69 L364.52 865.76 L367.36 866.68 L370.21 852.57 L373.06 865.67 L375.91 870.44 L378.75 867.39 L381.6 870.25 L384.45 874.25 L387.29 853.07 L390.14 870.13 L392.99 872.55 L395.84 868.07 L398.68 859.48 L401.53 880.24 L404.38 867.83 L407.23 870.55 L410.07 879.09 L412.92 865.91 L415.77 869.88 L418.61 874.42 L421.46 843.06 L424.31 872.65 L427.16 859.91 L430 871.36 L432.85 852.8 L435.7 875.82 L438.54 877.04 L441.39 873.71 L444.24 883.2 L447.09 883.07 L449.93 871.15 L452.78 879.1 L455.63 873.41 L458.48 878.5 L461.32 878.36 L464.17 880.1 L467.02 891.57 L469.86 876.91 L472.71 871.28 L475.56 884.53 L478.41 878.27 L481.25 872.78 L484.1 863.19 L486.95 862.93 L489.79 891.7 L492.64 864.35 L495.49 887.14 L498.34 886.15 L501.18 880.12 L504.03 862.39 L506.88 878.23 L509.73 889.84 L512.57 883.19 L515.42 885.39 L518.27 890.48 L521.11 883.48 L523.96 891.62 L526.81 892.03 L529.66 886.3 L532.5 882.25 L535.35 891.08 L538.2 883.79 L541.04 888.95 L543.89 888.51 L546.74 889.38 L549.59 893.68 L552.43 892.15 L555.28 894.15 L558.13 886.3 L560.98 891.9 L563.82 894.02 L566.67 888.34 L569.52 887.81 L572.36 887.41 L575.21 894.67 L578.06 893.86 L580.91 893.38 L583.75 881.54 L586.6 899.07" fill="none" stroke="#008000" stroke-width="1.1" stroke-linejoin="round"/><path d="M74.1 658.45l3.5 3.5l-3.5 3.5l-3.5 -3.5zM76.95 644.93l3.5 3.5l-3.5 3.5l-3.5 -3.5zM79.79 671.14l3.5 3.5l-3.5 3.5l-3.5 -3.5zM82.64 731.9l3.5 3.5l-3.5 3.5l-3.5 -3.5zM85.49 666.09l3.5 3.5l-3.5 3.5l-3.5 -3.5zM88.34 723.44l3.5 3.5l-3.5 3.5l-3.5 -3.5zM91.18 717.43l3.5 3.5l-3.5 3.5l-3.5 -3.5zM94.03 712.51l3.5 3.5l-3.5 3.5l-3.5 -3.5zM96.88 747.47l3.5 3.5l-3.5 3.5l-3.5 -3.5zM99.72 743.64l3.5 3.5l-3.5 3.5l-3.5 -3.5zM102.57 699.82l3.5 3.5l-3.5 3.5l-3.5 -3.5zM105.42 732.72l3.5 3.5l-3.5 3.5l-3.5 -3.5zM108.27 757.16l3.5 3.5l-3.5 3.5l-3.5 -3.5zM111.11 761.39l3.5 3.5l-3.5 3.5l-3.5 -3.5zM113.96 728.49l3.5 3.5l-3.5 3.5l-3.5 -3.5zM116.81 774.91l3.5 3.5l-3.5 3.5l-3.5 -3.5zM119.66 720.02l3.5 3.5l-3.5 3.5l-3.5 -3.5zM122.5 762.21l3.5 3.5l-3.5 3.5l-3.5 -3.5zM125.35 770.68l3.5 3.5l-3.5 3.5l-3.5 -3.5zM128.2 752.93l3.5 3.5l-3.5 3.5l-3.5 -3.5zM131.04 781.6l3.5 3.5l-3.5 3.5l-3.5 -3.5zM133.89 769.59l3.5 3.5l-3.5 3.5l-3.5 -3.5zM136.74 771.22l3.5 3.5l-3.5 3.5l-3.5 -3.5zM139.59 775.05l3.5 3.5l-3.5 3.5l-3.5 -3.5zM142.43 772.32l3.5 3.5l-3.5 3.5l-3.5 -3.5zM145.28 801.4l3.5 3.5l-3.5 3.5l-3.5 -3.5zM148.13 768.49l3.5 3.5l-3.5 3.5l-3.5 -3.5zM150.97 805.49l3.5 3.5l-3.5 3.5l-3.5 -3.5zM153.82 773.68l3.5 3.5l-3.5 3.5l-3.5 -3.5zM156.67 772.32l3.5 3.5l-3.5 3.5l-3.5 -3.5zM159.52 801.4l3.5 3.5l-3.5 3.5l-3.5 -3.5zM162.36 792.52l3.5 3.5l-3.5 3.5l-3.5 -3.5zM165.21 794.43l3.5 3.5l-3.5 3.5l-3.5 -3.5zM168.06 805.49l3.5 3.5l-3.5 3.5l-3.5 -3.5zM170.91 806.45l3.5 3.5l-3.5 3.5l-3.5 -3.5zM173.75 785.7l3.5 3.5l-3.5 3.5l-3.5 -3.5zM176.6 802.9l3.5 3.5l-3.5 3.5l-3.5 -3.5zM179.45 817.92l3.5 3.5l-3.5 3.5l-3.5 -3.5zM182.29 777.5l3.5 3.5l-3.5 3.5l-3.5 -3.5zM185.14 829.52l3.5 3.5l-3.5 3.5l-3.5 -3.5zM187.99 795.39l3.5 3.5l-3.5 3.5l-3.5 -3.5zM190.84 828.84l3.5 3.5l-3.5 3.5l-3.5 -3.5zM193.68 802.9l3.5 3.5l-3.5 3.5l-3.5 -3.5zM196.53 802.35l3.5 3.5l-3.5 3.5l-3.5 -3.5zM199.38 807.81l3.5 3.5l-3.5 3.5l-3.5 -3.5zM202.22 820.51l3.5 3.5l-3.5 3.5l-3.5 -3.5zM205.07 822.83l3.5 3.5l-3.5 3.5l-3.5 -3.5zM207.92 812.22l3.5 3.5l-3.5 3.5l-3.5 -3.5zM210.77 826.07l3.5 3.5l-3.5 3.5l-3.5 -3.5zM213.61 815.88l3.5 3.5l-3.5 3.5l-3.5 -3.5zM216.46 820.22l3.5 3.5l-3.5 3.5l-3.5 -3.5zM219.31 832.53l3.5 3.5l-3.5 3.5l-3.5 -3.5zM222.16 832.22l3.5 3.5l-3.5 3.5l-3.5 -3.5zM225 801.62l3.5 3.5l-3.5 3.5l-3.5 -3.5zM227.85 831.79l3.5 3.5l-3.5 3.5l-3.5 -3.5zM230.7 828.82l3.5 3.5l-3.5 3.5l-3.5 -3.5zM233.54 822.64l3.5 3.5l-3.5 3.5l-3.5 -3.5zM236.39 830.59l3.5 3.5l-3.5 3.5l-3.5 -3.5zM239.24 833.54l3.5 3.5l-3.5 3.5l-3.5 -3.5zM242.09 817.28l3.5 3.5l-3.5 3.5l-3.5 -3.5zM244.93 845.72l3.5 3.5l-3.5 3.5l-3.5 -3.5zM247.78 802.17l3.5 3.5l-3.5 3.5l-3.5 -3.5zM250.63 820.69l3.5 3.5l-3.5 3.5l-3.5 -3.5zM253.47 840.57l3.5 3.5l-3.5 3.5l-3.5 -3.5zM256.32 838.37l3.5 3.5l-3.5 3.5l-3.5 -3.5zM259.17 847.67l3.5 3.5l-3.5 3.5l-3.5 -3.5zM262.02 839.08l3.5 3.5l-3.5 3.5l-3.5 -3.5zM264.86 849.26l3.5 3.5l-3.5 3.5l-3.5 -3.5zM267.71 852.91l3.5 3.5l-3.5 3.5l-3.5 -3.5zM270.56 817.09l3.5 3.5l-3.5 3.5l-3.5 -3.5zM273.41 859.15l3.5 3.5l-3.5 3.5l-3.5 -3.5zM276.25 858.08l3.5 3.5l-3.5 3.5l-3.5 -3.5zM279.1 846.79l3.5 3.5l-3.5 3.5l-3.5 -3.5zM281.95 845.26l3.5 3.5l-3.5 3.5l-3.5 -3.5zM284.79 839.99l3.5 3.5l-3.5 3.5l-3.5 -3.5zM287.64 857.1l3.5 3.5l-3.5 3.5l-3.5 -3.5zM290.49 838.77l3.5 3.5l-3.5 3.5l-3.5 -3.5zM293.34 848.32l3.5 3.5l-3.5 3.5l-3.5 -3.5zM296.18 837.83l3.5 3.5l-3.5 3.5l-3.5 -3.5zM299.03 860.2l3.5 3.5l-3.5 3.5l-3.5 -3.5zM301.88 856.49l3.5 3.5l-3.5 3.5l-3.5 -3.5zM304.73 852.53l3.5 3.5l-3.5 3.5l-3.5 -3.5zM307.57 851.51l3.5 3.5l-3.5 3.5l-3.5 -3.5zM310.42 837.54l3.5 3.5l-3.5 3.5l-3.5 -3.5zM313.27 853.84l3.5 3.5l-3.5 3.5l-3.5 -3.5zM316.11 858.41l3.5 3.5l-3.5 3.5l-3.5 -3.5zM318.96 851.73l3.5 3.5l-3.5 3.5l-3.5 -3.5zM321.81 856.84l3.5 3.5l-3.5 3.5l-3.5 -3.5zM324.66 850.35l3.5 3.5l-3.5 3.5l-3.5 -3.5zM327.5 857.15l3.5 3.5l-3.5 3.5l-3.5 -3.5zM330.35 859.86l3.5 3.5l-3.5 3.5l-3.5 -3.5zM333.2 852.63l3.5 3.5l-3.5 3.5l-3.5 -3.5zM336.04 852.69l3.5 3.5l-3.5 3.5l-3.5 -3.5zM338.89 857.35l3.5 3.5l-3.5 3.5l-3.5 -3.5zM341.74 858.94l3.5 3.5l-3.5 3.5l-3.5 -3.5zM344.59 867.89l3.5 3.5l-3.5 3.5l-3.5 -3.5zM347.43 856.39l3.5 3.5l-3.5 3.5l-3.5 -3.5zM350.28 846.83l3.5 3.5l-3.5 3.5l-3.5 -3.5zM353.13 861.84l3.5 3.5l-3.5 3.5l-3.5 -3.5zM355.98 855.47l3.5 3.5l-3.5 3.5l-3.5 -3.5zM358.82 855.51l3.5 3.5l-3.5 3.5l-3.5 -3.5zM361.67 849.19l3.5 3.5l-3.5 3.5l-3.5 -3.5zM364.52 862.26l3.5 3.5l-3.5 3.5l-3.5 -3.5zM367.36 863.18l3.5 3.5l-3.5 3.5l-3.5 -3.5zM370.21 849.07l3.5 3.5l-3.5 3.5l-3.5 -3.5zM373.06 862.17l3.5 3.5l-3.5 3.5l-3.5 -3.5zM375.91 866.94l3.5 3.5l-3.5 3.5l-3.5 -3.5zM378.75 863.89l3.5 3.5l-3.5 3.5l-3.5 -3.5zM381.6 866.75l3.5 3.5l-3.5 3.5l-3.5 -3.5zM384.45 870.75l3.5 3.5l-3.5 3.5l-3.5 -3.5zM387.29 849.57l3.5 3.5l-3.5 3.5l-3.5 -3.5zM390.14 866.63l3.5 3.5l-3.5 3.5l-3.5 -3.5zM392.99 869.05l3.5 3.5l-3.5 3.5l-3.5 -3.5zM395.84 864.57l3.5 3.5l-3.5 3.5l-3.5 -3.5zM398.68 855.98l3.5 3.5l-3.5 3.5l-3.5 -3.5zM401.53 876.74l3.5 3.5l-3.5 3.5l-3.5 -3.5zM404.38 864.33l3.5 3.5l-3.5 3.5l-3.5 -3.5zM407.23 867.05l3.5 3.5l-3.5 3.5l-3.5 -3.5zM410.07 875.59l3.5 3.5l-3.5 3.5l-3.5 -3.5zM412.92 862.41l3.5 3.5l-3.5 3.5l-3.5 -3.5zM415.77 866.38l3.5 3.5l-3.5 3.5l-3.5 -3.5zM418.61 870.92l3.5 3.5l-3.5 3.5l-3.5 -3.5zM421.46 839.56l3.5 3.5l-3.5 3.5l-3.5 -3.5zM424.31 869.15l3.5 3.5l-3.5 3.5l-3.5 -3.5zM427.16 856.41l3.5 3.5l-3.5 3.5l-3.5 -3.5zM430 867.86l3.5 3.5l-3.5 3.5l-3.5 -3.5zM432.85 849.3l3.5 3.5l-3.5 3.5l-3.5 -3.5zM435.7 872.32l3.5 3.5l-3.5 3.5l-3.5 -3.5zM438.54 873.54l3.5 3.5l-3.5 3.5l-3.5 -3.5zM441.39 870.21l3.5 3.5l-3.5 3.5l-3.5 -3.5zM444.24 879.7l3.5 3.5l-3.5 3.5l-3.5 -3.5zM447.09 879.57l3.5 3.5l-3.5 3.5l-3.5 -3.5zM449.93 867.65l3.5 3.5l-3.5 3.5l-3.5 -3.5zM452.78 875.6l3.5 3.5l-3.5 3.5l-3.5 -3.5zM455.63 869.91l3.5 3.5l-3.5 3.5l-3.5 -3.5zM458.48 875l3.5 3.5l-3.5 3.5l-3.5 -3.5zM461.32 874.86l3.5 3.5l-3.5 3.5l-3.5 -3.5zM464.17 876.6l3.5 3.5l-3.5 3.5l-3.5 -3.5zM467.02 888.07l3.5 3.5l-3.5 3.5l-3.5 -3.5zM469.86 873.41l3.5 3.5l-3.5 3.5l-3.5 -3.5zM472.71 867.78l3.5 3.5l-3.5 3.5l-3.5 -3.5zM475.56 881.03l3.5 3.5l-3.5 3.5l-3.5 -3.5zM478.41 874.77l3.5 3.5l-3.5 3.5l-3.5 -3.5zM481.25 869.28l3.5 3.5l-3.5 3.5l-3.5 -3.5zM484.1 859.69l3.5 3.5l-3.5 3.5l-3.5 -3.5zM486.95 859.43l3.5 3.5l-3.5 3.5l-3.5 -3.5zM489.79 888.2l3.5 3.5l-3.5 3.5l-3.5 -3.5zM492.64 860.85l3.5 3.5l-3.5 3.5l-3.5 -3.5zM495.49 883.64l3.5 3.5l-3.5 3.5l-3.5 -3.5zM498.34 882.65l3.5 3.5l-3.5 3.5l-3.5 -3.5zM501.18 876.62l3.5 3.5l-3.5 3.5l-3.5 -3.5zM504.03 858.89l3.5 3.5l-3.5 3.5l-3.5 -3.5zM506.88 874.73l3.5 3.5l-3.5 3.5l-3.5 -3.5zM509.73 886.34l3.5 3.5l-3.5 3.5l-3.5 -3.5zM512.57 879.69l3.5 3.5l-3.5 3.5l-3.5 -3.5zM515.42 881.89l3.5 3.5l-3.5 3.5l-3.5 -3.5zM518.27 886.98l3.5 3.5l-3.5 3.5l-3.5 -3.5zM521.11 879.98l3.5 3.5l-3.5 3.5l-3.5 -3.5zM523.96 888.12l3.5 3.5l-3.5 3.5l-3.5 -3.5zM526.81 888.53l3.5 3.5l-3.5 3.5l-3.5 -3.5zM529.66 882.8l3.5 3.5l-3.5 3.5l-3.5 -3.5zM532.5 878.75l3.5 3.5l-3.5 3.5l-3.5 -3.5zM535.35 887.58l3.5 3.5l-3.5 3.5l-3.5 -3.5zM538.2 880.29l3.5 3.5l-3.5 3.5l-3.5 -3.5zM541.04 885.45l3.5 3.5l-3.5 3.5l-3.5 -3.5zM543.89 885.01l3.5 3.5l-3.5 3.5l-3.5 -3.5zM546.74 885.88l3.5 3.5l-3.5 3.5l-3.5 -3.5zM549.59 890.18l3.5 3.5l-3.5 3.5l-3.5 -3.5zM552.43 888.65l3.5 3.5l-3.5 3.5l-3.5 -3.5zM555.28 890.65l3.5 3.5l-3.5 3.5l-3.5 -3.5zM558.13 882.8l3.5 3.5l-3.5 3.5l-3.5 -3.5zM560.98 888.4l3.5 3.5l-3.5 3.5l-3.5 -3.5zM563.82 890.52l3.5 3.5l-3.5 3.5l-3.5 -3.5zM566.67 884.84l3.5 3.5l-3.5 3.5l-3.5 -3.5zM569.52 884.31l3.5 3.5l-3.5 3.5l-3.5 -3.5zM572.36 883.91l3.5 3.5l-3.5 3.5l-3.5 -3.5zM575.21 891.17l3.5 3.5l-3.5 3.5l-3.5 -3.5zM578.06 890.36l3.5 3.5l-3.5 3.5l-3.5 -3.5zM580.91 889.88l3.5 3.5l-3.5 3.5l-3.5 -3.5zM583.75 878.04l3.5 3.5l-3.5 3.5l-3.5 -3.5zM586.6 895.57l3.5 3.5l-3.5 3.5l-3.5 -3.5z" fill="#008000"/><path d="M76.95 763.39 L79.79 797.39 L82.64 851.05 L85.49 787.83 L88.34 839.99 L91.18 833.02 L94.03 828.11 L96.88 857.33 L99.72 854.32 L102.57 800.53 L105.42 836.03 L108.27 858.96 L111.11 862.24 L113.96 830.57 L116.81 873.16 L119.66 819.51 L122.5 857.33 L125.35 863.2 L128.2 843.13 L131.04 868.66 L133.89 847.21 L136.74 853.26 L139.59 848.64 L142.43 850.18 L145.28 880.13 L148.13 843.22 L150.97 881.59 L153.82 849.26 L156.67 848 L159.52 869.28 L162.36 857.28 L165.21 861.05 L168.06 864.23 L170.91 873.86 L173.75 849.72 L176.6 864.15 L179.45 874.59 L182.29 832.84 L185.14 886.96 L187.99 856.36 L190.84 885.81 L193.68 856.99 L196.53 852.79 L199.38 865.3 L202.22 870.13 L205.07 872.61 L207.92 874.72 L210.77 874.15 L213.61 868.71 L216.46 871.82 L219.31 880.4 L222.16 888.04 L225 857.69 L227.85 875.74 L230.7 879.17 L233.54 874.33 L236.39 874.83 L239.24 883.56 L242.09 868.97 L244.93 898.24 L247.78 850.67 L250.63 864.89 L253.47 881.31 L256.32 874.43 L259.17 884.39 L262.02 874.78 L264.86 892.75 L267.71 889.67 L270.56 861.4 L273.41 888.38 L276.25 893.56 L279.1 876.77 L281.95 882.36 L284.79 880.77 L287.64 899.35 L290.49 875.19 L293.34 882.73 L296.18 870.72 L299.03 899.25 L301.88 891.92 L304.73 891.19 L307.57 881.68 L310.42 878.07 L313.27 895.43 L316.11 885.58 L318.96 889.71 L321.81 895.13 L324.66 888.07 L327.5 883.31 L330.35 887.01 L333.2 876.07 L336.04 888.18 L338.89 886.98 L341.74 892.04 L344.59 887.93 L347.43 882.58 L350.28 881.23 L353.13 889.58 L355.98 884.7 L358.82 878.59 L361.67 878.82 L364.52 891.29 L367.36 882.21 L370.21 872.21 L373.06 888.07 L375.91 889.54 L378.75 882.58 L381.6 889.51 L384.45 889.83 L387.29 871.96 L390.14 880.5 L392.99 885.57 L395.84 883.15 L398.68 883.35 L401.53 886.4 L404.38 889.15 L407.23 887.08 L410.07 893.99 L412.92 889.52 L415.77 885.06 L418.61 896.23 L421.46 850.48 L424.31 885.43 L427.16 875.76 L430 892.91 L432.85 867.24 L435.7 884.53 L438.54 882.87 L441.39 886.11 L444.24 889.89 L447.09 892 L449.93 879.45 L452.78 890.18 L455.63 892.26 L458.48 889.44 L461.32 885.53 L464.17 884.11 L467.02 891.91 L469.86 880.59 L472.71 878.11 L475.56 890.98 L478.41 890.18 L481.25 883.97 L484.1 868.95 L486.95 870.75 L489.79 902.72 L492.64 870 L495.49 888.28 L498.34 894.48 L501.18 885.52 L504.03 872.86 L506.88 889.33 L509.73 894 L512.57 883.98 L515.42 889.17 L518.27 894.61 L521.11 882.2 L523.96 897.2 L526.81 895.48 L529.66 889.49 L532.5 888.03 L535.35 893.29 L538.2 894.52 L541.04 891.16 L543.89 894.62 L546.74 887.74 L549.59 897.5 L552.43 894.03 L555.28 890.72 L558.13 899.96 L560.98 896.94 L563.82 891.65 L566.67 893.96 L569.52 902.35 L572.36 896.04 L575.21 899.61 L578.06 890.01 L580.91 895.66 L583.75 881.2 L586.6 894.34" fill="none" stroke="#000080" stroke-width="1.1" stroke-linejoin="round"/><path d="M73.05 763.39l5.9 -3.2v6.4zM75.89 797.39l5.9 -3.2v6.4zM78.74 851.05l5.9 -3.2v6.4zM81.59 787.83l5.9 -3.2v6.4zM84.44 839.99l5.9 -3.2v6.4zM87.28 833.02l5.9 -3.2v6.4zM90.13 828.11l5.9 -3.2v6.4zM92.98 857.33l5.9 -3.2v6.4zM95.82 854.32l5.9 -3.2v6.4zM98.67 800.53l5.9 -3.2v6.4zM101.52 836.03l5.9 -3.2v6.4zM104.37 858.96l5.9 -3.2v6.4zM107.21 862.24l5.9 -3.2v6.4zM110.06 830.57l5.9 -3.2v6.4zM112.91 873.16l5.9 -3.2v6.4zM115.76 819.51l5.9 -3.2v6.4zM118.6 857.33l5.9 -3.2v6.4zM121.45 863.2l5.9 -3.2v6.4zM124.3 843.13l5.9 -3.2v6.4zM127.14 868.66l5.9 -3.2v6.4zM129.99 847.21l5.9 -3.2v6.4zM132.84 853.26l5.9 -3.2v6.4zM135.69 848.64l5.9 -3.2v6.4zM138.53 850.18l5.9 -3.2v6.4zM141.38 880.13l5.9 -3.2v6.4zM144.23 843.22l5.9 -3.2v6.4zM147.07 881.59l5.9 -3.2v6.4zM149.92 849.26l5.9 -3.2v6.4zM152.77 848l5.9 -3.2v6.4zM155.62 869.28l5.9 -3.2v6.4zM158.46 857.28l5.9 -3.2v6.4zM161.31 861.05l5.9 -3.2v6.4zM164.16 864.23l5.9 -3.2v6.4zM167.01 873.86l5.9 -3.2v6.4zM169.85 849.72l5.9 -3.2v6.4zM172.7 864.15l5.9 -3.2v6.4zM175.55 874.59l5.9 -3.2v6.4zM178.39 832.84l5.9 -3.2v6.4zM181.24 886.96l5.9 -3.2v6.4zM184.09 856.36l5.9 -3.2v6.4zM186.94 885.81l5.9 -3.2v6.4zM189.78 856.99l5.9 -3.2v6.4zM192.63 852.79l5.9 -3.2v6.4zM195.48 865.3l5.9 -3.2v6.4zM198.32 870.13l5.9 -3.2v6.4zM201.17 872.61l5.9 -3.2v6.4zM204.02 874.72l5.9 -3.2v6.4zM206.87 874.15l5.9 -3.2v6.4zM209.71 868.71l5.9 -3.2v6.4zM212.56 871.82l5.9 -3.2v6.4zM215.41 880.4l5.9 -3.2v6.4zM218.26 888.04l5.9 -3.2v6.4zM221.1 857.69l5.9 -3.2v6.4zM223.95 875.74l5.9 -3.2v6.4zM226.8 879.17l5.9 -3.2v6.4zM229.64 874.33l5.9 -3.2v6.4zM232.49 874.83l5.9 -3.2v6.4zM235.34 883.56l5.9 -3.2v6.4zM238.19 868.97l5.9 -3.2v6.4zM241.03 898.24l5.9 -3.2v6.4zM243.88 850.67l5.9 -3.2v6.4zM246.73 864.89l5.9 -3.2v6.4zM249.57 881.31l5.9 -3.2v6.4zM252.42 874.43l5.9 -3.2v6.4zM255.27 884.39l5.9 -3.2v6.4zM258.12 874.78l5.9 -3.2v6.4zM260.96 892.75l5.9 -3.2v6.4zM263.81 889.67l5.9 -3.2v6.4zM266.66 861.4l5.9 -3.2v6.4zM269.51 888.38l5.9 -3.2v6.4zM272.35 893.56l5.9 -3.2v6.4zM275.2 876.77l5.9 -3.2v6.4zM278.05 882.36l5.9 -3.2v6.4zM280.89 880.77l5.9 -3.2v6.4zM283.74 899.35l5.9 -3.2v6.4zM286.59 875.19l5.9 -3.2v6.4zM289.44 882.73l5.9 -3.2v6.4zM292.28 870.72l5.9 -3.2v6.4zM295.13 899.25l5.9 -3.2v6.4zM297.98 891.92l5.9 -3.2v6.4zM300.83 891.19l5.9 -3.2v6.4zM303.67 881.68l5.9 -3.2v6.4zM306.52 878.07l5.9 -3.2v6.4zM309.37 895.43l5.9 -3.2v6.4zM312.21 885.58l5.9 -3.2v6.4zM315.06 889.71l5.9 -3.2v6.4zM317.91 895.13l5.9 -3.2v6.4zM320.76 888.07l5.9 -3.2v6.4zM323.6 883.31l5.9 -3.2v6.4zM326.45 887.01l5.9 -3.2v6.4zM329.3 876.07l5.9 -3.2v6.4zM332.14 888.18l5.9 -3.2v6.4zM334.99 886.98l5.9 -3.2v6.4zM337.84 892.04l5.9 -3.2v6.4zM340.69 887.93l5.9 -3.2v6.4zM343.53 882.58l5.9 -3.2v6.4zM346.38 881.23l5.9 -3.2v6.4zM349.23 889.58l5.9 -3.2v6.4zM352.08 884.7l5.9 -3.2v6.4zM354.92 878.59l5.9 -3.2v6.4zM357.77 878.82l5.9 -3.2v6.4zM360.62 891.29l5.9 -3.2v6.4zM363.46 882.21l5.9 -3.2v6.4zM366.31 872.21l5.9 -3.2v6.4zM369.16 888.07l5.9 -3.2v6.4zM372.01 889.54l5.9 -3.2v6.4zM374.85 882.58l5.9 -3.2v6.4zM377.7 889.51l5.9 -3.2v6.4zM380.55 889.83l5.9 -3.2v6.4zM383.39 871.96l5.9 -3.2v6.4zM386.24 880.5l5.9 -3.2v6.4zM389.09 885.57l5.9 -3.2v6.4zM391.94 883.15l5.9 -3.2v6.4zM394.78 883.35l5.9 -3.2v6.4zM397.63 886.4l5.9 -3.2v6.4zM400.48 889.15l5.9 -3.2v6.4zM403.33 887.08l5.9 -3.2v6.4zM406.17 893.99l5.9 -3.2v6.4zM409.02 889.52l5.9 -3.2v6.4zM411.87 885.06l5.9 -3.2v6.4zM414.71 896.23l5.9 -3.2v6.4zM417.56 850.48l5.9 -3.2v6.4zM420.41 885.43l5.9 -3.2v6.4zM423.26 875.76l5.9 -3.2v6.4zM426.1 892.91l5.9 -3.2v6.4zM428.95 867.24l5.9 -3.2v6.4zM431.8 884.53l5.9 -3.2v6.4zM434.64 882.87l5.9 -3.2v6.4zM437.49 886.11l5.9 -3.2v6.4zM440.34 889.89l5.9 -3.2v6.4zM443.19 892l5.9 -3.2v6.4zM446.03 879.45l5.9 -3.2v6.4zM448.88 890.18l5.9 -3.2v6.4zM451.73 892.26l5.9 -3.2v6.4zM454.58 889.44l5.9 -3.2v6.4zM457.42 885.53l5.9 -3.2v6.4zM460.27 884.11l5.9 -3.2v6.4zM463.12 891.91l5.9 -3.2v6.4zM465.96 880.59l5.9 -3.2v6.4zM468.81 878.11l5.9 -3.2v6.4zM471.66 890.98l5.9 -3.2v6.4zM474.51 890.18l5.9 -3.2v6.4zM477.35 883.97l5.9 -3.2v6.4zM480.2 868.95l5.9 -3.2v6.4zM483.05 870.75l5.9 -3.2v6.4zM485.89 902.72l5.9 -3.2v6.4zM488.74 870l5.9 -3.2v6.4zM491.59 888.28l5.9 -3.2v6.4zM494.44 894.48l5.9 -3.2v6.4zM497.28 885.52l5.9 -3.2v6.4zM500.13 872.86l5.9 -3.2v6.4zM502.98 889.33l5.9 -3.2v6.4zM505.83 894l5.9 -3.2v6.4zM508.67 883.98l5.9 -3.2v6.4zM511.52 889.17l5.9 -3.2v6.4zM514.37 894.61l5.9 -3.2v6.4zM517.21 882.2l5.9 -3.2v6.4zM520.06 897.2l5.9 -3.2v6.4zM522.91 895.48l5.9 -3.2v6.4zM525.76 889.49l5.9 -3.2v6.4zM528.6 888.03l5.9 -3.2v6.4zM531.45 893.29l5.9 -3.2v6.4zM534.3 894.52l5.9 -3.2v6.4zM537.14 891.16l5.9 -3.2v6.4zM539.99 894.62l5.9 -3.2v6.4zM542.84 887.74l5.9 -3.2v6.4zM545.69 897.5l5.9 -3.2v6.4zM548.53 894.03l5.9 -3.2v6.4zM551.38 890.72l5.9 -3.2v6.4zM554.23 899.96l5.9 -3.2v6.4zM557.08 896.94l5.9 -3.2v6.4zM559.92 891.65l5.9 -3.2v6.4zM562.77 893.96l5.9 -3.2v6.4zM565.62 902.35l5.9 -3.2v6.4zM568.46 896.04l5.9 -3.2v6.4zM571.31 899.61l5.9 -3.2v6.4zM574.16 890.01l5.9 -3.2v6.4zM577.01 895.66l5.9 -3.2v6.4zM579.85 881.2l5.9 -3.2v6.4zM582.7 894.34l5.9 -3.2v6.4z" fill="#000080"/><path d="M74.1 812.95 L76.95 780.73 L79.79 804.49 L82.64 862.24 L85.49 795.75 L88.34 847.91 L91.18 840.81 L94.03 834.53 L96.88 863.74 L99.72 861.42 L102.57 809.95 L105.42 842.31 L108.27 864.56 L111.11 868.52 L113.96 835.21 L116.81 879.44 L119.66 819.51 L122.5 862.92 L125.35 868.66 L128.2 844.77 L131.04 873.98 L133.89 849.54 L136.74 854.87 L139.59 857.74 L142.43 855.55 L145.28 881.63 L148.13 849.68 L150.97 883.68 L153.82 850.91 L156.67 846.68 L159.52 876.17 L162.36 865.93 L165.21 866.61 L168.06 873.16 L170.91 872.75 L173.75 850.91 L176.6 867.98 L179.45 883.68 L182.29 841.9 L185.14 889.82 L187.99 857.74 L190.84 889.14 L193.68 861.01 L196.53 861.56 L199.38 865.93 L202.22 877.53 L205.07 879.31 L207.92 864.45 L210.77 871 L213.61 868.58 L216.46 869.31 L219.31 878.41 L222.16 878.36 L225 846.87 L227.85 877.63 L230.7 877.84 L233.54 866.99 L236.39 874.01 L239.24 876.55 L242.09 860.51 L244.93 884.33 L247.78 842.98 L250.63 851.53 L253.47 871.57 L256.32 860.87 L259.17 877.64 L262.02 871.02 L264.86 885.22 L267.71 878.51 L270.56 842.06 L273.41 879.75 L276.25 881.31 L279.1 870.09 L281.95 870.51 L284.79 864.65 L287.64 880.56 L290.49 856.73 L293.34 870.52 L296.18 865.18 L299.03 879.49 L301.88 877.74 L304.73 879.04 L307.57 872.34 L310.42 862.67 L313.27 884.18 L316.11 877.97 L318.96 875.73 L321.81 885.39 L324.66 872.14 L327.5 876.21 L330.35 879.29 L333.2 870.26 L336.04 871.44 L338.89 872.98 L341.74 881.23 L344.59 878.67 L347.43 872.22 L350.28 862.84 L353.13 877.78 L355.98 874.03 L358.82 866.08 L361.67 863.3 L364.52 873.19 L367.36 878.14 L370.21 868.18 L373.06 878.32 L375.91 876.92 L378.75 864.72 L381.6 876.81 L384.45 876.2 L387.29 859.13 L390.14 868.82 L392.99 877.82 L395.84 874.9 L398.68 866.17 L401.53 875.74 L404.38 880.47 L407.23 878.6 L410.07 878.82 L412.92 878.64 L415.77 878.42 L418.61 886.98 L421.46 847.73 L424.31 877.14 L427.16 860.34 L430 877.31 L432.85 858.65 L435.7 880.75 L438.54 878.74 L441.39 869.37 L444.24 881.25 L447.09 879.72 L449.93 876.4 L452.78 871.3 L455.63 874.82 L458.48 877.12 L461.32 876.15 L464.17 876.77 L467.02 882.45 L469.86 868.23 L472.71 874.35 L475.56 885.44 L478.41 871.99 L481.25 867.05 L484.1 861.33 L486.95 860.52 L489.79 877.36 L492.64 858.28 L495.49 870.39 L498.34 878.55 L501.18 868.21 L504.03 848.89 L506.88 862.1 L509.73 876.7 L512.57 869.28 L515.42 875.27 L518.27 877.36 L521.11 876.29 L523.96 873.24 L526.81 878.37 L529.66 873.12 L532.5 876.19 L535.35 871.99 L538.2 873.64 L541.04 878.17 L543.89 882.15 L546.74 875.38 L549.59 876.22 L552.43 871.69 L555.28 883.16 L558.13 877.11 L560.98 880.99 L563.82 878.62 L566.67 884.36 L569.52 883.31 L572.36 874.34 L575.21 873.8 L578.06 882.49 L580.91 876.73 L583.75 864.19 L586.6 877.21" fill="none" stroke="#8000ff" stroke-width="1.1" stroke-linejoin="round"/><path d="M78 812.95l-5.9 -3.2v6.4zM80.85 780.73l-5.9 -3.2v6.4zM83.69 804.49l-5.9 -3.2v6.4zM86.54 862.24l-5.9 -3.2v6.4zM89.39 795.75l-5.9 -3.2v6.4zM92.24 847.91l-5.9 -3.2v6.4zM95.08 840.81l-5.9 -3.2v6.4zM97.93 834.53l-5.9 -3.2v6.4zM100.78 863.74l-5.9 -3.2v6.4zM103.62 861.42l-5.9 -3.2v6.4zM106.47 809.95l-5.9 -3.2v6.4zM109.32 842.31l-5.9 -3.2v6.4zM112.17 864.56l-5.9 -3.2v6.4zM115.01 868.52l-5.9 -3.2v6.4zM117.86 835.21l-5.9 -3.2v6.4zM120.71 879.44l-5.9 -3.2v6.4zM123.56 819.51l-5.9 -3.2v6.4zM126.4 862.92l-5.9 -3.2v6.4zM129.25 868.66l-5.9 -3.2v6.4zM132.1 844.77l-5.9 -3.2v6.4zM134.94 873.98l-5.9 -3.2v6.4zM137.79 849.54l-5.9 -3.2v6.4zM140.64 854.87l-5.9 -3.2v6.4zM143.49 857.74l-5.9 -3.2v6.4zM146.33 855.55l-5.9 -3.2v6.4zM149.18 881.63l-5.9 -3.2v6.4zM152.03 849.68l-5.9 -3.2v6.4zM154.88 883.68l-5.9 -3.2v6.4zM157.72 850.91l-5.9 -3.2v6.4zM160.57 846.68l-5.9 -3.2v6.4zM163.42 876.17l-5.9 -3.2v6.4zM166.26 865.93l-5.9 -3.2v6.4zM169.11 866.61l-5.9 -3.2v6.4zM171.96 873.16l-5.9 -3.2v6.4zM174.81 872.75l-5.9 -3.2v6.4zM177.65 850.91l-5.9 -3.2v6.4zM180.5 867.98l-5.9 -3.2v6.4zM183.35 883.68l-5.9 -3.2v6.4zM186.19 841.9l-5.9 -3.2v6.4zM189.04 889.82l-5.9 -3.2v6.4zM191.89 857.74l-5.9 -3.2v6.4zM194.74 889.14l-5.9 -3.2v6.4zM197.58 861.01l-5.9 -3.2v6.4zM200.43 861.56l-5.9 -3.2v6.4zM203.28 865.93l-5.9 -3.2v6.4zM206.12 877.53l-5.9 -3.2v6.4zM208.97 879.31l-5.9 -3.2v6.4zM211.82 864.45l-5.9 -3.2v6.4zM214.67 871l-5.9 -3.2v6.4zM217.51 868.58l-5.9 -3.2v6.4zM220.36 869.31l-5.9 -3.2v6.4zM223.21 878.41l-5.9 -3.2v6.4zM226.06 878.36l-5.9 -3.2v6.4zM228.9 846.87l-5.9 -3.2v6.4zM231.75 877.63l-5.9 -3.2v6.4zM234.6 877.84l-5.9 -3.2v6.4zM237.44 866.99l-5.9 -3.2v6.4zM240.29 874.01l-5.9 -3.2v6.4zM243.14 876.55l-5.9 -3.2v6.4zM245.99 860.51l-5.9 -3.2v6.4zM248.83 884.33l-5.9 -3.2v6.4zM251.68 842.98l-5.9 -3.2v6.4zM254.53 851.53l-5.9 -3.2v6.4zM257.38 871.57l-5.9 -3.2v6.4zM260.22 860.87l-5.9 -3.2v6.4zM263.07 877.64l-5.9 -3.2v6.4zM265.92 871.02l-5.9 -3.2v6.4zM268.76 885.22l-5.9 -3.2v6.4zM271.61 878.51l-5.9 -3.2v6.4zM274.46 842.06l-5.9 -3.2v6.4zM277.31 879.75l-5.9 -3.2v6.4zM280.15 881.31l-5.9 -3.2v6.4zM283 870.09l-5.9 -3.2v6.4zM285.85 870.51l-5.9 -3.2v6.4zM288.69 864.65l-5.9 -3.2v6.4zM291.54 880.56l-5.9 -3.2v6.4zM294.39 856.73l-5.9 -3.2v6.4zM297.24 870.52l-5.9 -3.2v6.4zM300.08 865.18l-5.9 -3.2v6.4zM302.93 879.49l-5.9 -3.2v6.4zM305.78 877.74l-5.9 -3.2v6.4zM308.62 879.04l-5.9 -3.2v6.4zM311.47 872.34l-5.9 -3.2v6.4zM314.32 862.67l-5.9 -3.2v6.4zM317.17 884.18l-5.9 -3.2v6.4zM320.01 877.97l-5.9 -3.2v6.4zM322.86 875.73l-5.9 -3.2v6.4zM325.71 885.39l-5.9 -3.2v6.4zM328.56 872.14l-5.9 -3.2v6.4zM331.4 876.21l-5.9 -3.2v6.4zM334.25 879.29l-5.9 -3.2v6.4zM337.1 870.26l-5.9 -3.2v6.4zM339.94 871.44l-5.9 -3.2v6.4zM342.79 872.98l-5.9 -3.2v6.4zM345.64 881.23l-5.9 -3.2v6.4zM348.49 878.67l-5.9 -3.2v6.4zM351.33 872.22l-5.9 -3.2v6.4zM354.18 862.84l-5.9 -3.2v6.4zM357.03 877.78l-5.9 -3.2v6.4zM359.88 874.03l-5.9 -3.2v6.4zM362.72 866.08l-5.9 -3.2v6.4zM365.57 863.3l-5.9 -3.2v6.4zM368.42 873.19l-5.9 -3.2v6.4zM371.26 878.14l-5.9 -3.2v6.4zM374.11 868.18l-5.9 -3.2v6.4zM376.96 878.32l-5.9 -3.2v6.4zM379.81 876.92l-5.9 -3.2v6.4zM382.65 864.72l-5.9 -3.2v6.4zM385.5 876.81l-5.9 -3.2v6.4zM388.35 876.2l-5.9 -3.2v6.4zM391.19 859.13l-5.9 -3.2v6.4zM394.04 868.82l-5.9 -3.2v6.4zM396.89 877.82l-5.9 -3.2v6.4zM399.74 874.9l-5.9 -3.2v6.4zM402.58 866.17l-5.9 -3.2v6.4zM405.43 875.74l-5.9 -3.2v6.4zM408.28 880.47l-5.9 -3.2v6.4zM411.12 878.6l-5.9 -3.2v6.4zM413.97 878.82l-5.9 -3.2v6.4zM416.82 878.64l-5.9 -3.2v6.4zM419.67 878.42l-5.9 -3.2v6.4zM422.51 886.98l-5.9 -3.2v6.4zM425.36 847.73l-5.9 -3.2v6.4zM428.21 877.14l-5.9 -3.2v6.4zM431.06 860.34l-5.9 -3.2v6.4zM433.9 877.31l-5.9 -3.2v6.4zM436.75 858.65l-5.9 -3.2v6.4zM439.6 880.75l-5.9 -3.2v6.4zM442.44 878.74l-5.9 -3.2v6.4zM445.29 869.37l-5.9 -3.2v6.4zM448.14 881.25l-5.9 -3.2v6.4zM450.99 879.72l-5.9 -3.2v6.4zM453.83 876.4l-5.9 -3.2v6.4zM456.68 871.3l-5.9 -3.2v6.4zM459.53 874.82l-5.9 -3.2v6.4zM462.38 877.12l-5.9 -3.2v6.4zM465.22 876.15l-5.9 -3.2v6.4zM468.07 876.77l-5.9 -3.2v6.4zM470.92 882.45l-5.9 -3.2v6.4zM473.76 868.23l-5.9 -3.2v6.4zM476.61 874.35l-5.9 -3.2v6.4zM479.46 885.44l-5.9 -3.2v6.4zM482.31 871.99l-5.9 -3.2v6.4zM485.15 867.05l-5.9 -3.2v6.4zM488 861.33l-5.9 -3.2v6.4zM490.85 860.52l-5.9 -3.2v6.4zM493.69 877.36l-5.9 -3.2v6.4zM496.54 858.28l-5.9 -3.2v6.4zM499.39 870.39l-5.9 -3.2v6.4zM502.24 878.55l-5.9 -3.2v6.4zM505.08 868.21l-5.9 -3.2v6.4zM507.93 848.89l-5.9 -3.2v6.4zM510.78 862.1l-5.9 -3.2v6.4zM513.62 876.7l-5.9 -3.2v6.4zM516.47 869.28l-5.9 -3.2v6.4zM519.32 875.27l-5.9 -3.2v6.4zM522.17 877.36l-5.9 -3.2v6.4zM525.01 876.29l-5.9 -3.2v6.4zM527.86 873.24l-5.9 -3.2v6.4zM530.71 878.37l-5.9 -3.2v6.4zM533.56 873.12l-5.9 -3.2v6.4zM536.4 876.19l-5.9 -3.2v6.4zM539.25 871.99l-5.9 -3.2v6.4zM542.1 873.64l-5.9 -3.2v6.4zM544.94 878.17l-5.9 -3.2v6.4zM547.79 882.15l-5.9 -3.2v6.4zM550.64 875.38l-5.9 -3.2v6.4zM553.49 876.22l-5.9 -3.2v6.4zM556.33 871.69l-5.9 -3.2v6.4zM559.18 883.16l-5.9 -3.2v6.4zM562.03 877.11l-5.9 -3.2v6.4zM564.88 880.99l-5.9 -3.2v6.4zM567.72 878.62l-5.9 -3.2v6.4zM570.57 884.36l-5.9 -3.2v6.4zM573.42 883.31l-5.9 -3.2v6.4zM576.26 874.34l-5.9 -3.2v6.4zM579.11 873.8l-5.9 -3.2v6.4zM581.96 882.49l-5.9 -3.2v6.4zM584.81 876.73l-5.9 -3.2v6.4zM587.65 864.19l-5.9 -3.2v6.4zM590.5 877.21l-5.9 -3.2v6.4z" fill="#8000ff"/></g><rect x="74.3" y="8.4" width="512.7" height="409.8" fill="none" stroke="#000" stroke-width="1.6"/><line x1="88.54" y1="418.2" x2="88.54" y2="426.2" stroke="#000" stroke-width="1.6"/><line x1="88.54" y1="8.4" x2="88.54" y2="0.4" stroke="#000" stroke-width="1.6"/><line x1="124.15" y1="418.2" x2="124.15" y2="422.7" stroke="#000" stroke-width="1.6"/><line x1="124.15" y1="8.4" x2="124.15" y2="3.9" stroke="#000" stroke-width="1.6"/><line x1="159.75" y1="418.2" x2="159.75" y2="426.2" stroke="#000" stroke-width="1.6"/><line x1="159.75" y1="8.4" x2="159.75" y2="0.4" stroke="#000" stroke-width="1.6"/><line x1="195.35" y1="418.2" x2="195.35" y2="422.7" stroke="#000" stroke-width="1.6"/><line x1="195.35" y1="8.4" x2="195.35" y2="3.9" stroke="#000" stroke-width="1.6"/><line x1="230.96" y1="418.2" x2="230.96" y2="426.2" stroke="#000" stroke-width="1.6"/><line x1="230.96" y1="8.4" x2="230.96" y2="0.4" stroke="#000" stroke-width="1.6"/><line x1="266.56" y1="418.2" x2="266.56" y2="422.7" stroke="#000" stroke-width="1.6"/><line x1="266.56" y1="8.4" x2="266.56" y2="3.9" stroke="#000" stroke-width="1.6"/><line x1="302.17" y1="418.2" x2="302.17" y2="426.2" stroke="#000" stroke-width="1.6"/><line x1="302.17" y1="8.4" x2="302.17" y2="0.4" stroke="#000" stroke-width="1.6"/><line x1="337.77" y1="418.2" x2="337.77" y2="422.7" stroke="#000" stroke-width="1.6"/><line x1="337.77" y1="8.4" x2="337.77" y2="3.9" stroke="#000" stroke-width="1.6"/><line x1="373.38" y1="418.2" x2="373.38" y2="426.2" stroke="#000" stroke-width="1.6"/><line x1="373.38" y1="8.4" x2="373.38" y2="0.4" stroke="#000" stroke-width="1.6"/><line x1="408.98" y1="418.2" x2="408.98" y2="422.7" stroke="#000" stroke-width="1.6"/><line x1="408.98" y1="8.4" x2="408.98" y2="3.9" stroke="#000" stroke-width="1.6"/><line x1="444.58" y1="418.2" x2="444.58" y2="426.2" stroke="#000" stroke-width="1.6"/><line x1="444.58" y1="8.4" x2="444.58" y2="0.4" stroke="#000" stroke-width="1.6"/><line x1="480.19" y1="418.2" x2="480.19" y2="422.7" stroke="#000" stroke-width="1.6"/><line x1="480.19" y1="8.4" x2="480.19" y2="3.9" stroke="#000" stroke-width="1.6"/><line x1="515.79" y1="418.2" x2="515.79" y2="426.2" stroke="#000" stroke-width="1.6"/><line x1="515.79" y1="8.4" x2="515.79" y2="0.4" stroke="#000" stroke-width="1.6"/><line x1="551.4" y1="418.2" x2="551.4" y2="422.7" stroke="#000" stroke-width="1.6"/><line x1="551.4" y1="8.4" x2="551.4" y2="3.9" stroke="#000" stroke-width="1.6"/><line x1="587" y1="418.2" x2="587" y2="426.2" stroke="#000" stroke-width="1.6"/><line x1="587" y1="8.4" x2="587" y2="0.4" stroke="#000" stroke-width="1.6"/><line x1="66.3" y1="418.2" x2="74.3" y2="418.2" stroke="#000" stroke-width="1.6"/><line x1="587" y1="418.2" x2="595" y2="418.2" stroke="#000" stroke-width="1.6"/><line x1="66.3" y1="349.9" x2="74.3" y2="349.9" stroke="#000" stroke-width="1.6"/><line x1="587" y1="349.9" x2="595" y2="349.9" stroke="#000" stroke-width="1.6"/><line x1="66.3" y1="281.6" x2="74.3" y2="281.6" stroke="#000" stroke-width="1.6"/><line x1="587" y1="281.6" x2="595" y2="281.6" stroke="#000" stroke-width="1.6"/><line x1="66.3" y1="213.3" x2="74.3" y2="213.3" stroke="#000" stroke-width="1.6"/><line x1="587" y1="213.3" x2="595" y2="213.3" stroke="#000" stroke-width="1.6"/><line x1="66.3" y1="145" x2="74.3" y2="145" stroke="#000" stroke-width="1.6"/><line x1="587" y1="145" x2="595" y2="145" stroke="#000" stroke-width="1.6"/><line x1="66.3" y1="76.7" x2="74.3" y2="76.7" stroke="#000" stroke-width="1.6"/><line x1="587" y1="76.7" x2="595" y2="76.7" stroke="#000" stroke-width="1.6"/><line x1="66.3" y1="8.4" x2="74.3" y2="8.4" stroke="#000" stroke-width="1.6"/><line x1="587" y1="8.4" x2="595" y2="8.4" stroke="#000" stroke-width="1.6"/><line x1="69.8" y1="384.05" x2="74.3" y2="384.05" stroke="#000" stroke-width="1.6"/><line x1="587" y1="384.05" x2="591.5" y2="384.05" stroke="#000" stroke-width="1.6"/><line x1="69.8" y1="315.75" x2="74.3" y2="315.75" stroke="#000" stroke-width="1.6"/><line x1="587" y1="315.75" x2="591.5" y2="315.75" stroke="#000" stroke-width="1.6"/><line x1="69.8" y1="247.45" x2="74.3" y2="247.45" stroke="#000" stroke-width="1.6"/><line x1="587" y1="247.45" x2="591.5" y2="247.45" stroke="#000" stroke-width="1.6"/><line x1="69.8" y1="179.15" x2="74.3" y2="179.15" stroke="#000" stroke-width="1.6"/><line x1="587" y1="179.15" x2="591.5" y2="179.15" stroke="#000" stroke-width="1.6"/><line x1="69.8" y1="110.85" x2="74.3" y2="110.85" stroke="#000" stroke-width="1.6"/><line x1="587" y1="110.85" x2="591.5" y2="110.85" stroke="#000" stroke-width="1.6"/><line x1="69.8" y1="42.55" x2="74.3" y2="42.55" stroke="#000" stroke-width="1.6"/><line x1="587" y1="42.55" x2="591.5" y2="42.55" stroke="#000" stroke-width="1.6"/><text x="61" y="422.7" text-anchor="end" font-size="16">0.00</text><text x="61" y="354.4" text-anchor="end" font-size="16">0.05</text><text x="61" y="286.1" text-anchor="end" font-size="16">0.10</text><text x="61" y="217.8" text-anchor="end" font-size="16">0.15</text><text x="61" y="149.5" text-anchor="end" font-size="16">0.20</text><text x="61" y="81.2" text-anchor="end" font-size="16">0.25</text><text x="61" y="12.9" text-anchor="end" font-size="16">0.30</text><text x="88.54" y="444" text-anchor="middle" font-size="16">250</text><text x="159.75" y="444" text-anchor="middle" font-size="16">300</text><text x="230.96" y="444" text-anchor="middle" font-size="16">350</text><text x="302.17" y="444" text-anchor="middle" font-size="16">400</text><text x="373.38" y="444" text-anchor="middle" font-size="16">450</text><text x="444.58" y="444" text-anchor="middle" font-size="16">500</text><text x="515.79" y="444" text-anchor="middle" font-size="16">550</text><text x="587" y="444" text-anchor="middle" font-size="16">600</text><rect x="74.1" y="485" width="512.5" height="409.6" fill="none" stroke="#000" stroke-width="1.6"/><line x1="88.34" y1="894.6" x2="88.34" y2="902.6" stroke="#000" stroke-width="1.6"/><line x1="88.34" y1="485" x2="88.34" y2="480.5" stroke="#000" stroke-width="1.6"/><line x1="123.93" y1="894.6" x2="123.93" y2="899.1" stroke="#000" stroke-width="1.6"/><line x1="123.93" y1="485" x2="123.93" y2="480.5" stroke="#000" stroke-width="1.6"/><line x1="159.52" y1="894.6" x2="159.52" y2="902.6" stroke="#000" stroke-width="1.6"/><line x1="159.52" y1="485" x2="159.52" y2="480.5" stroke="#000" stroke-width="1.6"/><line x1="195.11" y1="894.6" x2="195.11" y2="899.1" stroke="#000" stroke-width="1.6"/><line x1="195.11" y1="485" x2="195.11" y2="480.5" stroke="#000" stroke-width="1.6"/><line x1="230.7" y1="894.6" x2="230.7" y2="902.6" stroke="#000" stroke-width="1.6"/><line x1="230.7" y1="485" x2="230.7" y2="480.5" stroke="#000" stroke-width="1.6"/><line x1="266.29" y1="894.6" x2="266.29" y2="899.1" stroke="#000" stroke-width="1.6"/><line x1="266.29" y1="485" x2="266.29" y2="480.5" stroke="#000" stroke-width="1.6"/><line x1="301.88" y1="894.6" x2="301.88" y2="902.6" stroke="#000" stroke-width="1.6"/><line x1="301.88" y1="485" x2="301.88" y2="480.5" stroke="#000" stroke-width="1.6"/><line x1="337.47" y1="894.6" x2="337.47" y2="899.1" stroke="#000" stroke-width="1.6"/><line x1="337.47" y1="485" x2="337.47" y2="480.5" stroke="#000" stroke-width="1.6"/><line x1="373.06" y1="894.6" x2="373.06" y2="902.6" stroke="#000" stroke-width="1.6"/><line x1="373.06" y1="485" x2="373.06" y2="480.5" stroke="#000" stroke-width="1.6"/><line x1="408.65" y1="894.6" x2="408.65" y2="899.1" stroke="#000" stroke-width="1.6"/><line x1="408.65" y1="485" x2="408.65" y2="480.5" stroke="#000" stroke-width="1.6"/><line x1="444.24" y1="894.6" x2="444.24" y2="902.6" stroke="#000" stroke-width="1.6"/><line x1="444.24" y1="485" x2="444.24" y2="480.5" stroke="#000" stroke-width="1.6"/><line x1="479.83" y1="894.6" x2="479.83" y2="899.1" stroke="#000" stroke-width="1.6"/><line x1="479.83" y1="485" x2="479.83" y2="480.5" stroke="#000" stroke-width="1.6"/><line x1="515.42" y1="894.6" x2="515.42" y2="902.6" stroke="#000" stroke-width="1.6"/><line x1="515.42" y1="485" x2="515.42" y2="480.5" stroke="#000" stroke-width="1.6"/><line x1="551.01" y1="894.6" x2="551.01" y2="899.1" stroke="#000" stroke-width="1.6"/><line x1="551.01" y1="485" x2="551.01" y2="480.5" stroke="#000" stroke-width="1.6"/><line x1="586.6" y1="894.6" x2="586.6" y2="902.6" stroke="#000" stroke-width="1.6"/><line x1="586.6" y1="485" x2="586.6" y2="480.5" stroke="#000" stroke-width="1.6"/><line x1="66.1" y1="860.47" x2="74.1" y2="860.47" stroke="#000" stroke-width="1.6"/><line x1="586.6" y1="860.47" x2="594.6" y2="860.47" stroke="#000" stroke-width="1.6"/><line x1="66.1" y1="792.2" x2="74.1" y2="792.2" stroke="#000" stroke-width="1.6"/><line x1="586.6" y1="792.2" x2="594.6" y2="792.2" stroke="#000" stroke-width="1.6"/><line x1="66.1" y1="723.93" x2="74.1" y2="723.93" stroke="#000" stroke-width="1.6"/><line x1="586.6" y1="723.93" x2="594.6" y2="723.93" stroke="#000" stroke-width="1.6"/><line x1="66.1" y1="655.67" x2="74.1" y2="655.67" stroke="#000" stroke-width="1.6"/><line x1="586.6" y1="655.67" x2="594.6" y2="655.67" stroke="#000" stroke-width="1.6"/><line x1="66.1" y1="587.4" x2="74.1" y2="587.4" stroke="#000" stroke-width="1.6"/><line x1="586.6" y1="587.4" x2="594.6" y2="587.4" stroke="#000" stroke-width="1.6"/><line x1="66.1" y1="519.13" x2="74.1" y2="519.13" stroke="#000" stroke-width="1.6"/><line x1="586.6" y1="519.13" x2="594.6" y2="519.13" stroke="#000" stroke-width="1.6"/><line x1="69.6" y1="894.6" x2="74.1" y2="894.6" stroke="#000" stroke-width="1.6"/><line x1="586.6" y1="894.6" x2="591.1" y2="894.6" stroke="#000" stroke-width="1.6"/><line x1="69.6" y1="826.33" x2="74.1" y2="826.33" stroke="#000" stroke-width="1.6"/><line x1="586.6" y1="826.33" x2="591.1" y2="826.33" stroke="#000" stroke-width="1.6"/><line x1="69.6" y1="758.07" x2="74.1" y2="758.07" stroke="#000" stroke-width="1.6"/><line x1="586.6" y1="758.07" x2="591.1" y2="758.07" stroke="#000" stroke-width="1.6"/><line x1="69.6" y1="689.8" x2="74.1" y2="689.8" stroke="#000" stroke-width="1.6"/><line x1="586.6" y1="689.8" x2="591.1" y2="689.8" stroke="#000" stroke-width="1.6"/><line x1="69.6" y1="621.53" x2="74.1" y2="621.53" stroke="#000" stroke-width="1.6"/><line x1="586.6" y1="621.53" x2="591.1" y2="621.53" stroke="#000" stroke-width="1.6"/><line x1="69.6" y1="553.27" x2="74.1" y2="553.27" stroke="#000" stroke-width="1.6"/><line x1="586.6" y1="553.27" x2="591.1" y2="553.27" stroke="#000" stroke-width="1.6"/><line x1="69.6" y1="485" x2="74.1" y2="485" stroke="#000" stroke-width="1.6"/><line x1="586.6" y1="485" x2="591.1" y2="485" stroke="#000" stroke-width="1.6"/><text x="61" y="864.97" text-anchor="end" font-size="16">0.00</text><text x="61" y="796.7" text-anchor="end" font-size="16">0.05</text><text x="61" y="728.43" text-anchor="end" font-size="16">0.10</text><text x="61" y="660.17" text-anchor="end" font-size="16">0.15</text><text x="61" y="591.9" text-anchor="end" font-size="16">0.20</text><text x="61" y="523.63" text-anchor="end" font-size="16">0.25</text><text x="88.34" y="920.5" text-anchor="middle" font-size="16">250</text><text x="159.52" y="920.5" text-anchor="middle" font-size="16">300</text><text x="230.7" y="920.5" text-anchor="middle" font-size="16">350</text><text x="301.88" y="920.5" text-anchor="middle" font-size="16">400</text><text x="373.06" y="920.5" text-anchor="middle" font-size="16">450</text><text x="444.24" y="920.5" text-anchor="middle" font-size="16">500</text><text x="515.42" y="920.5" text-anchor="middle" font-size="16">550</text><text x="586.6" y="920.5" text-anchor="middle" font-size="16">600</text><text x="255.0" y="465.6" font-size="19.5" textLength="152.3" lengthAdjust="spacingAndGlyphs">Wavelength (nm)</text><text x="254.8" y="944.6" font-size="19.5" textLength="151.5" lengthAdjust="spacingAndGlyphs">Wavelength (nm)</text><text transform="translate(16.1 269.4) rotate(-90)" font-size="19.5" textLength="95.9" lengthAdjust="spacingAndGlyphs">Absorption</text><text transform="translate(14.7 753.5) rotate(-90)" font-size="19.5" textLength="95.9" lengthAdjust="spacingAndGlyphs">Absorption</text><line x1="281.3" y1="67.6" x2="326.3" y2="67.6" stroke="#000" stroke-width="1.1" stroke-opacity="1.0"/><path d="M301.32 65.12h4.97v4.97h-4.97z" fill="#000"/><line x1="281.3" y1="92.2" x2="326.3" y2="92.2" stroke="#c02020" stroke-width="1.2" stroke-opacity="1.0"/><path d="M300.78 92.2a3.02 3.02 0 1 0 6.05 0a3.02 3.02 0 1 0 -6.05 0" fill="#f00"/><line x1="281.3" y1="116.8" x2="326.3" y2="116.8" stroke="#2020c8" stroke-width="1.2" stroke-opacity="1.0"/><path d="M303.8 112.59l3.46 6.37h-6.91z" fill="#00f"/><text x="331.7" y="73.9" font-size="19.5" letter-spacing="0.18">at 5.5 K after irradiation</text><text x="331.7" y="98.5" font-size="19.5" letter-spacing="0.18">at 100 K</text><text x="331.7" y="123.3" font-size="19.5" letter-spacing="0.18">at 216 K (pure H</text><text x="477.4" y="131.5" font-size="13">2</text><text x="483.8" y="123.3" font-size="19.5">CO</text><text x="514.1" y="131.5" font-size="13">3</text><text x="521.8" y="123.3" font-size="19.5">)</text><line x1="460.8" y1="519" x2="505.5" y2="519" stroke="#000" stroke-width="1.0" stroke-opacity="0.6"/><path d="M480.67 516.52h4.97v4.97h-4.97z" fill="#000"/><text x="510.6" y="525.5" font-size="19.5" letter-spacing="0.18">216 K</text><line x1="460.8" y1="543.5" x2="505.5" y2="543.5" stroke="#f00" stroke-width="1.0" stroke-opacity="0.6"/><path d="M480.13 543.5a3.02 3.02 0 1 0 6.05 0a3.02 3.02 0 1 0 -6.05 0" fill="#f00"/><text x="510.6" y="549.95" font-size="19.5" letter-spacing="0.18">235 K</text><line x1="460.8" y1="568" x2="505.5" y2="568" stroke="#00f" stroke-width="1.0" stroke-opacity="0.6"/><path d="M483.15 563.79l3.46 6.37h-6.91z" fill="#00f"/><text x="510.6" y="574.4" font-size="19.5" letter-spacing="0.18">241 K</text><line x1="460.8" y1="592.5" x2="505.5" y2="592.5" stroke="#f0f" stroke-width="1.0" stroke-opacity="0.6"/><path d="M483.15 596.71l3.46 -6.37h-6.91z" fill="#f0f"/><text x="510.6" y="598.85" font-size="19.5" letter-spacing="0.18">248 K</text><line x1="460.8" y1="617" x2="505.5" y2="617" stroke="#008000" stroke-width="1.0" stroke-opacity="0.6"/><path d="M483.15 613.22l3.78 3.78l-3.78 3.78l-3.78 -3.78z" fill="#008000"/><text x="510.6" y="623.3" font-size="19.5" letter-spacing="0.18">254 K</text><line x1="460.8" y1="641.5" x2="505.5" y2="641.5" stroke="#000080" stroke-width="1.0" stroke-opacity="0.6"/><path d="M478.94 641.5l6.37 -3.46v6.91z" fill="#000080"/><text x="510.6" y="647.75" font-size="19.5" letter-spacing="0.18">260 K</text><line x1="460.8" y1="666" x2="505.5" y2="666" stroke="#8000ff" stroke-width="1.0" stroke-opacity="0.6"/><path d="M487.36 666l-6.37 -3.46v6.91z" fill="#8000ff"/><text x="510.6" y="672.2" font-size="19.5" letter-spacing="0.18">300 K</text></svg></body></html>
